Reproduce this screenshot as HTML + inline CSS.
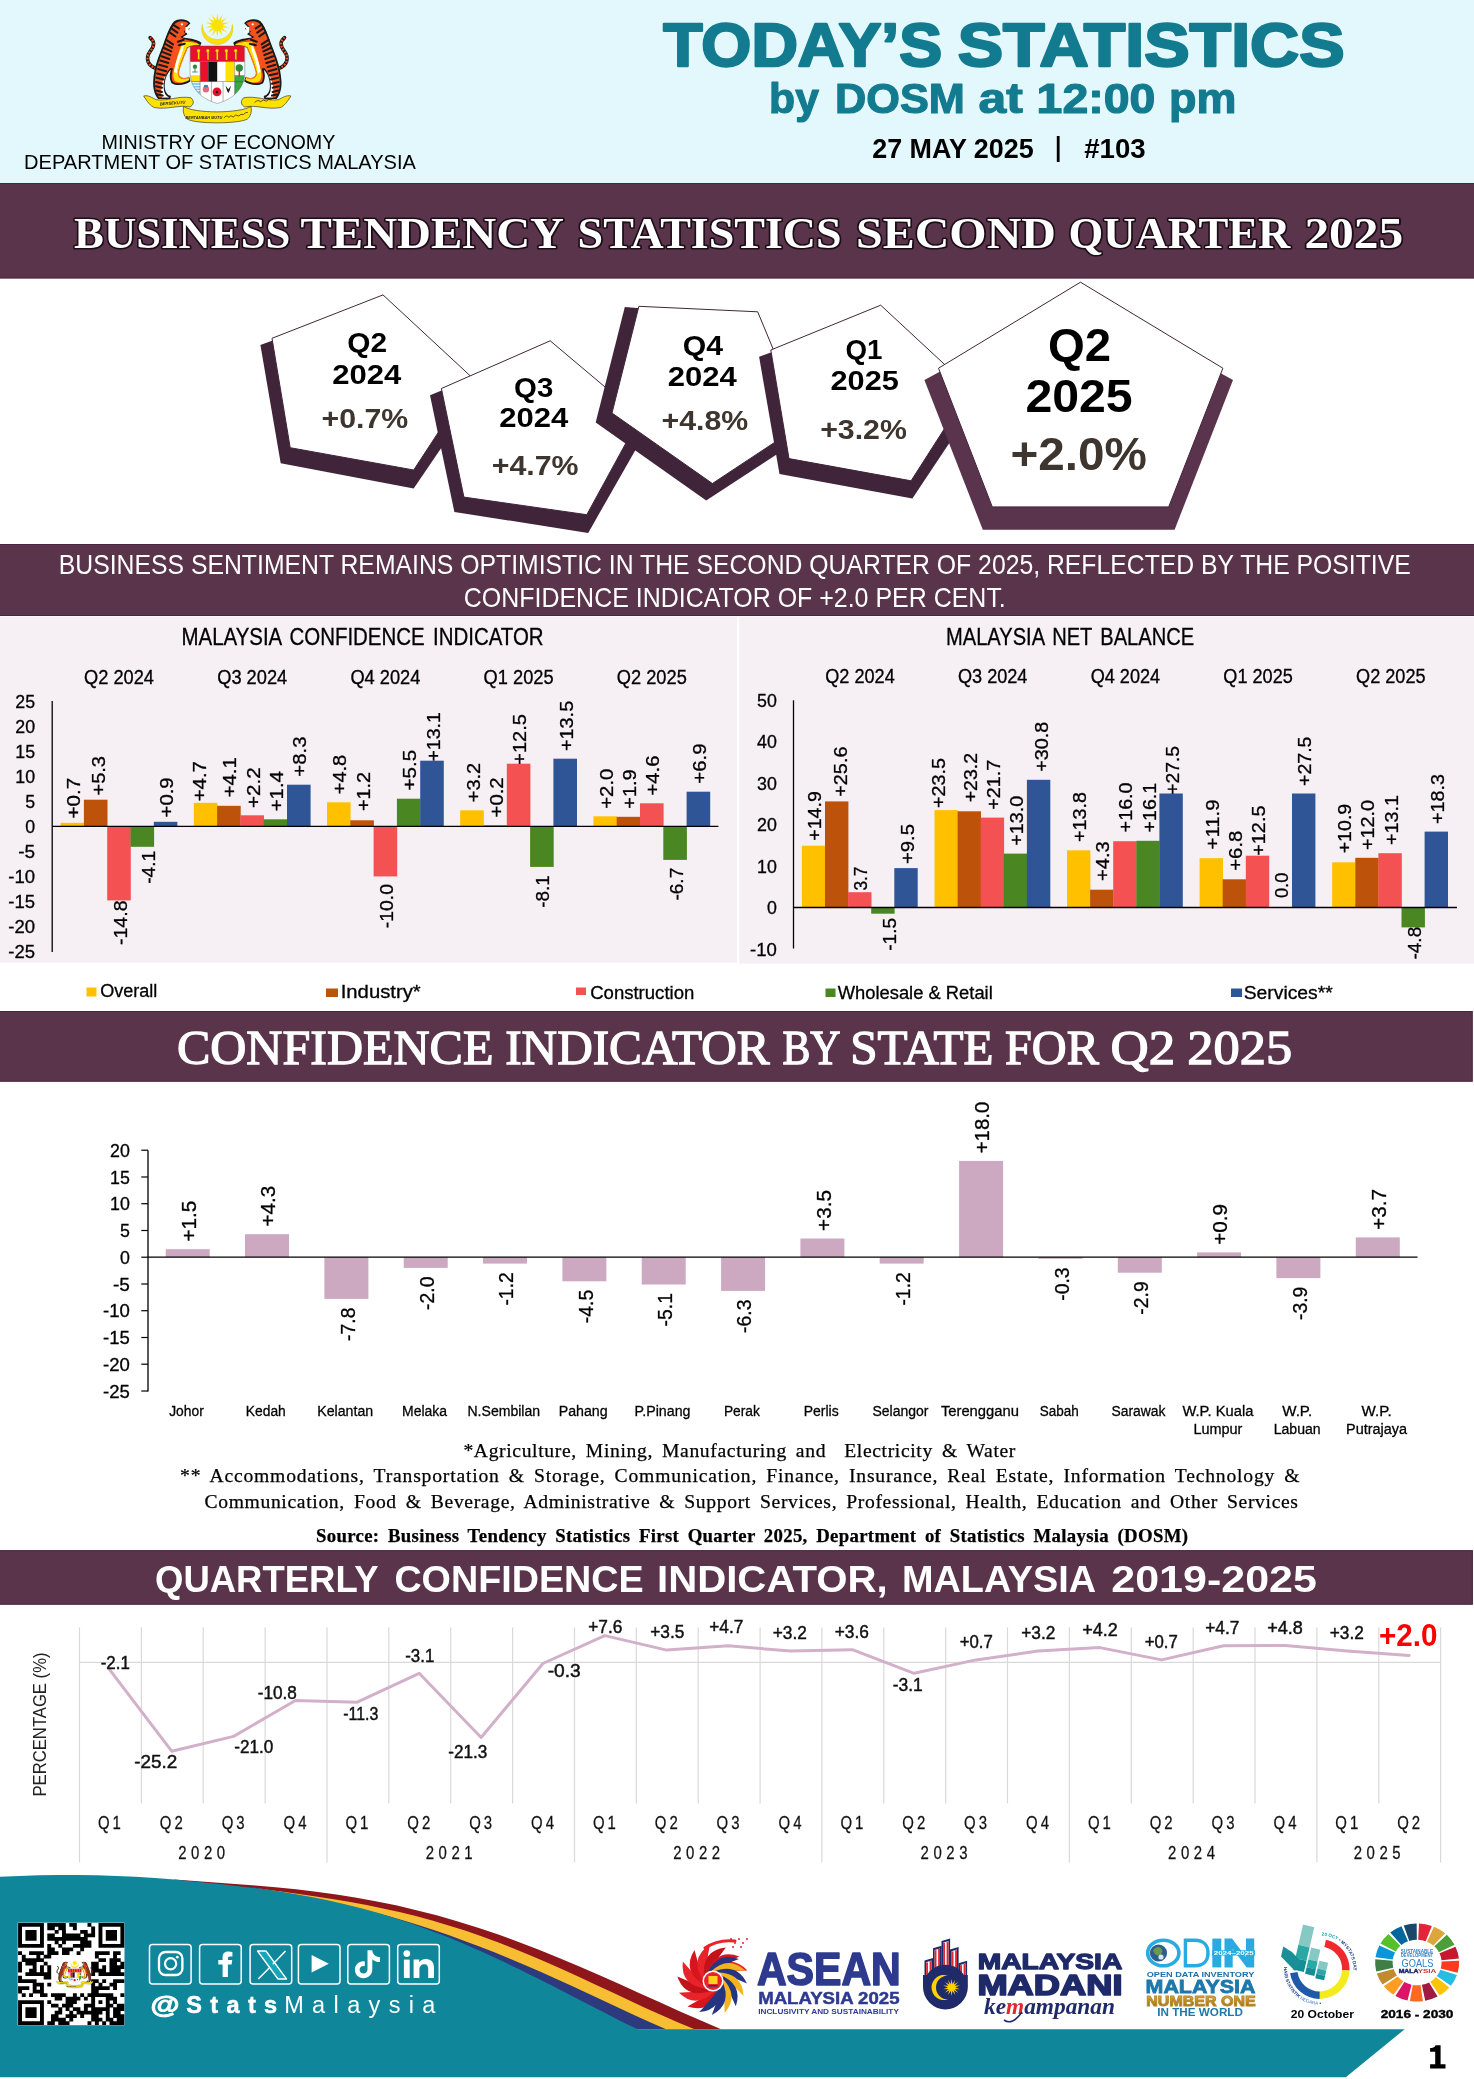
<!DOCTYPE html>
<html><head><meta charset="utf-8"><title>Today's Statistics by DOSM</title>
<style>
html,body{margin:0;padding:0;background:#fff;}
body{width:1474px;height:2079px;overflow:hidden;font-family:"Liberation Sans",sans-serif;}
svg{display:block;font-family:"Liberation Sans",sans-serif;will-change:transform;}
.tt text:not([fill="#fff"]):not([font-family]){stroke:#000;stroke-width:.3px}
</style></head><body>
<svg width="1474" height="2079" viewBox="0 0 1474 2079">
<rect x="0.0" y="0.0" width="1474.0" height="183.0" fill="#e3f8fc"/>
<g id="crestg" transform="translate(130,5) scale(0.12212)">
<path d="M592,160 A128,128 0 1 0 838,160 A118,118 0 1 1 592,160Z" fill="#ffe100" stroke="#c9b000" stroke-width="3"/>
<polygon points="715.0,65.0 724.3,124.1 758.4,74.9 741.2,132.2 793.2,102.7 752.8,146.8 812.5,142.7 757.0,165.0 812.5,187.3 752.8,183.2 793.2,227.3 741.2,197.8 758.4,255.1 724.3,205.9 715.0,265.0 705.7,205.9 671.6,255.1 688.8,197.8 636.8,227.3 677.2,183.2 617.5,187.3 673.0,165.0 617.5,142.7 677.2,146.8 636.8,102.7 688.8,132.2 671.6,74.9 705.7,124.1" fill="#ffe100"/>
<g><path d="M215,520 C150,500 120,440 165,380 C200,335 205,300 165,268" fill="none" stroke="#1a1a1a" stroke-width="30" stroke-linecap="round"/>
<path d="M215,520 C150,500 120,440 165,380 C200,335 205,300 165,268" fill="none" stroke="#f4511e" stroke-width="18" stroke-dasharray="14 13"/>
<path d="M360,135 C400,105 470,115 495,150 L470,175 L490,195 L455,215 L470,240 L430,265 C470,275 540,275 585,310 L575,335 C540,330 500,335 470,350 L450,400 C420,470 400,520 395,560 C400,600 440,615 485,590 L495,625 C450,660 380,665 340,640 C320,600 325,560 335,530 C300,560 280,620 285,680 C290,720 310,740 335,745 L330,770 L230,770 C205,740 185,690 190,620 C195,520 230,430 270,330 C295,260 320,180 360,135Z" fill="#1a1a1a"/>
<path d="M372,150 C405,125 455,130 478,152 L452,176 L470,196 L440,214 L452,238 L412,262 C455,290 520,290 565,315 C530,318 490,325 458,338 L438,392 C408,462 386,520 382,565 C386,610 430,632 478,608 C450,640 390,650 352,630 C335,600 340,560 352,520 L330,515 C290,560 268,620 272,682 C276,725 296,750 320,757 L240,757 C218,730 200,688 204,622 C210,522 244,436 282,338 C306,268 334,192 372,150Z" fill="#f4511e"/>
<path d="M430,300 C480,300 540,305 575,325 C540,325 500,332 468,346 L445,400 C418,465 398,520 393,562 C396,598 430,615 478,596 L486,615 C445,640 395,640 365,620 C350,590 352,560 362,525 C378,450 400,380 430,300Z" fill="#ffe100"/>
<path d="M440,340 L425,400 C400,460 385,520 383,560 L360,545 C372,470 398,400 425,335Z" fill="#fff"/>
<path d="M300,560 C275,610 270,670 282,715 C290,740 305,752 322,757 L262,757 C250,700 255,620 300,560Z" fill="#fff"/>
<path d="M296,285 L352,322" stroke="#1a1a1a" stroke-width="17" stroke-linecap="round"/>
<path d="M288,318 L345,350" stroke="#1a1a1a" stroke-width="17" stroke-linecap="round"/>
<path d="M278,352 L338,380" stroke="#1a1a1a" stroke-width="17" stroke-linecap="round"/>
<path d="M268,386 L330,410" stroke="#1a1a1a" stroke-width="17" stroke-linecap="round"/>
<path d="M258,420 L322,442" stroke="#1a1a1a" stroke-width="17" stroke-linecap="round"/>
<path d="M248,455 L314,474" stroke="#1a1a1a" stroke-width="17" stroke-linecap="round"/>
<path d="M238,490 L304,508" stroke="#1a1a1a" stroke-width="17" stroke-linecap="round"/>
<path d="M230,525 L296,542" stroke="#1a1a1a" stroke-width="17" stroke-linecap="round"/>
<path d="M222,560 L286,576" stroke="#1a1a1a" stroke-width="17" stroke-linecap="round"/>
<path d="M216,595 L276,610" stroke="#1a1a1a" stroke-width="17" stroke-linecap="round"/>
<path d="M212,630 L268,644" stroke="#1a1a1a" stroke-width="17" stroke-linecap="round"/>
<path d="M212,665 L262,678" stroke="#1a1a1a" stroke-width="17" stroke-linecap="round"/>
<path d="M216,700 L262,712" stroke="#1a1a1a" stroke-width="17" stroke-linecap="round"/>
<path d="M226,732 L268,742" stroke="#1a1a1a" stroke-width="17" stroke-linecap="round"/>
<path d="M322,222 L372,258" stroke="#1a1a1a" stroke-width="17" stroke-linecap="round"/>
<path d="M336,190 L388,226" stroke="#1a1a1a" stroke-width="17" stroke-linecap="round"/>
<path d="M352,160 L400,192" stroke="#1a1a1a" stroke-width="17" stroke-linecap="round"/>
<path d="M392,300 L440,285" stroke="#1a1a1a" stroke-width="17" stroke-linecap="round"/>
<path d="M400,330 L448,318" stroke="#1a1a1a" stroke-width="17" stroke-linecap="round"/>
<path d="M470,350 C440,420 405,500 395,560 C400,600 440,615 485,590" fill="none" stroke="#ff7a1a" stroke-width="10"/>
<path d="M455,180 L492,172 L476,205 L495,225 L452,228Z" fill="#fff"/>
<circle cx="425" cy="158" r="9" fill="#fff"/></g>
<g transform="translate(1430,0) scale(-1,1)"><path d="M215,520 C150,500 120,440 165,380 C200,335 205,300 165,268" fill="none" stroke="#1a1a1a" stroke-width="30" stroke-linecap="round"/>
<path d="M215,520 C150,500 120,440 165,380 C200,335 205,300 165,268" fill="none" stroke="#f4511e" stroke-width="18" stroke-dasharray="14 13"/>
<path d="M360,135 C400,105 470,115 495,150 L470,175 L490,195 L455,215 L470,240 L430,265 C470,275 540,275 585,310 L575,335 C540,330 500,335 470,350 L450,400 C420,470 400,520 395,560 C400,600 440,615 485,590 L495,625 C450,660 380,665 340,640 C320,600 325,560 335,530 C300,560 280,620 285,680 C290,720 310,740 335,745 L330,770 L230,770 C205,740 185,690 190,620 C195,520 230,430 270,330 C295,260 320,180 360,135Z" fill="#1a1a1a"/>
<path d="M372,150 C405,125 455,130 478,152 L452,176 L470,196 L440,214 L452,238 L412,262 C455,290 520,290 565,315 C530,318 490,325 458,338 L438,392 C408,462 386,520 382,565 C386,610 430,632 478,608 C450,640 390,650 352,630 C335,600 340,560 352,520 L330,515 C290,560 268,620 272,682 C276,725 296,750 320,757 L240,757 C218,730 200,688 204,622 C210,522 244,436 282,338 C306,268 334,192 372,150Z" fill="#f4511e"/>
<path d="M430,300 C480,300 540,305 575,325 C540,325 500,332 468,346 L445,400 C418,465 398,520 393,562 C396,598 430,615 478,596 L486,615 C445,640 395,640 365,620 C350,590 352,560 362,525 C378,450 400,380 430,300Z" fill="#ffe100"/>
<path d="M440,340 L425,400 C400,460 385,520 383,560 L360,545 C372,470 398,400 425,335Z" fill="#fff"/>
<path d="M300,560 C275,610 270,670 282,715 C290,740 305,752 322,757 L262,757 C250,700 255,620 300,560Z" fill="#fff"/>
<path d="M296,285 L352,322" stroke="#1a1a1a" stroke-width="17" stroke-linecap="round"/>
<path d="M288,318 L345,350" stroke="#1a1a1a" stroke-width="17" stroke-linecap="round"/>
<path d="M278,352 L338,380" stroke="#1a1a1a" stroke-width="17" stroke-linecap="round"/>
<path d="M268,386 L330,410" stroke="#1a1a1a" stroke-width="17" stroke-linecap="round"/>
<path d="M258,420 L322,442" stroke="#1a1a1a" stroke-width="17" stroke-linecap="round"/>
<path d="M248,455 L314,474" stroke="#1a1a1a" stroke-width="17" stroke-linecap="round"/>
<path d="M238,490 L304,508" stroke="#1a1a1a" stroke-width="17" stroke-linecap="round"/>
<path d="M230,525 L296,542" stroke="#1a1a1a" stroke-width="17" stroke-linecap="round"/>
<path d="M222,560 L286,576" stroke="#1a1a1a" stroke-width="17" stroke-linecap="round"/>
<path d="M216,595 L276,610" stroke="#1a1a1a" stroke-width="17" stroke-linecap="round"/>
<path d="M212,630 L268,644" stroke="#1a1a1a" stroke-width="17" stroke-linecap="round"/>
<path d="M212,665 L262,678" stroke="#1a1a1a" stroke-width="17" stroke-linecap="round"/>
<path d="M216,700 L262,712" stroke="#1a1a1a" stroke-width="17" stroke-linecap="round"/>
<path d="M226,732 L268,742" stroke="#1a1a1a" stroke-width="17" stroke-linecap="round"/>
<path d="M322,222 L372,258" stroke="#1a1a1a" stroke-width="17" stroke-linecap="round"/>
<path d="M336,190 L388,226" stroke="#1a1a1a" stroke-width="17" stroke-linecap="round"/>
<path d="M352,160 L400,192" stroke="#1a1a1a" stroke-width="17" stroke-linecap="round"/>
<path d="M392,300 L440,285" stroke="#1a1a1a" stroke-width="17" stroke-linecap="round"/>
<path d="M400,330 L448,318" stroke="#1a1a1a" stroke-width="17" stroke-linecap="round"/>
<path d="M470,350 C440,420 405,500 395,560 C400,600 440,615 485,590" fill="none" stroke="#ff7a1a" stroke-width="10"/>
<path d="M455,180 L492,172 L476,205 L495,225 L452,228Z" fill="#fff"/>
<circle cx="425" cy="158" r="9" fill="#fff"/></g>
<clipPath id="shc"><path d="M492,335 H940 V560 C935,680 850,770 716,806 C580,770 497,680 492,560Z"/></clipPath>
<g clip-path="url(#shc)">
<rect x="492" y="335" width="448" height="475" fill="#fff"/>
<rect x="492" y="335" width="448" height="128" fill="#e8112d"/>
<rect x="556" y="375" width="13" height="75" fill="#ffe100" stroke="#8a7a00" stroke-width="2"/>
<path d="M548,372 q14,-22 26,0 l-4,14 h-18z" fill="#ffe100" stroke="#8a7a00" stroke-width="2"/>
<rect x="632" y="375" width="13" height="75" fill="#ffe100" stroke="#8a7a00" stroke-width="2"/>
<path d="M624,372 q14,-22 26,0 l-4,14 h-18z" fill="#ffe100" stroke="#8a7a00" stroke-width="2"/>
<rect x="708" y="375" width="13" height="75" fill="#ffe100" stroke="#8a7a00" stroke-width="2"/>
<path d="M700,372 q14,-22 26,0 l-4,14 h-18z" fill="#ffe100" stroke="#8a7a00" stroke-width="2"/>
<rect x="784" y="375" width="13" height="75" fill="#ffe100" stroke="#8a7a00" stroke-width="2"/>
<path d="M776,372 q14,-22 26,0 l-4,14 h-18z" fill="#ffe100" stroke="#8a7a00" stroke-width="2"/>
<rect x="860" y="375" width="13" height="75" fill="#ffe100" stroke="#8a7a00" stroke-width="2"/>
<path d="M852,372 q14,-22 26,0 l-4,14 h-18z" fill="#ffe100" stroke="#8a7a00" stroke-width="2"/>
<rect x="575" y="465" width="66" height="162" fill="#e8112d"/>
<rect x="641" y="465" width="75" height="162" fill="#111"/>
<rect x="716" y="465" width="66" height="162" fill="#fff"/>
<rect x="782" y="465" width="73" height="162" fill="#ffe100"/>
<rect x="492" y="575" width="82" height="50" fill="#ffe100"/>
<rect x="492" y="625" width="82" height="120" fill="#7fc4e8"/>
<rect x="492" y="632" width="82" height="8" fill="#fff"/>
<rect x="492" y="654" width="82" height="8" fill="#fff"/>
<rect x="492" y="676" width="82" height="8" fill="#fff"/>
<rect x="492" y="698" width="82" height="8" fill="#fff"/>
<rect x="492" y="720" width="82" height="8" fill="#fff"/>
<circle cx="532" cy="505" r="18" fill="#2e8b3c"/><rect x="528" y="515" width="8" height="35" fill="#2e8b3c"/><rect x="508" y="545" width="48" height="7" fill="#3a7fc2"/>
<path d="M857,575 L940,575 L940,640 L857,740Z" fill="#3aa644"/>
<circle cx="895" cy="515" r="30" fill="#2e8b3c"/><rect x="889" y="530" width="12" height="55" fill="#c0392b"/>
<circle cx="622" cy="690" r="26" fill="#e86a7a"/><rect x="606" y="655" width="32" height="20" fill="#3a7fc2"/>
<circle cx="712" cy="712" r="36" fill="#e8112d"/><circle cx="712" cy="712" r="10" fill="#111"/>
<path d="M782,660 L805,690 L828,660 L815,705 L805,720 L795,705Z" fill="#222"/>
<path d="M492,463 H940" stroke="#333" stroke-width="3" fill="none"/>
<path d="M492,627 H940" stroke="#333" stroke-width="3" fill="none"/>
<path d="M574,463 V760" stroke="#333" stroke-width="3" fill="none"/>
<path d="M857,463 V740" stroke="#333" stroke-width="3" fill="none"/>
<path d="M667,627 V800" stroke="#333" stroke-width="3" fill="none"/>
<path d="M762,627 V790" stroke="#333" stroke-width="3" fill="none"/>
</g>
<path d="M492,335 H940 V560 C935,680 850,770 716,806 C580,770 497,680 492,560Z" fill="none" stroke="#444" stroke-width="3"/>
<path d="M112,745 C150,735 180,760 215,775 C300,790 400,740 500,760 C530,790 520,820 490,835 C400,815 300,860 200,840 C170,830 140,790 112,745Z" fill="#ffe100" stroke="#222" stroke-width="5" stroke-linejoin="round"/>
<path d="M1318,745 C1280,735 1250,760 1215,775 C1130,790 1030,740 930,760 C900,790 910,820 940,835 C1030,815 1130,860 1230,840 C1260,830 1290,790 1318,745Z" fill="#ffe100" stroke="#222" stroke-width="5" stroke-linejoin="round"/>
<path d="M440,830 C520,890 900,890 990,830 C1000,870 990,910 960,935 C880,975 540,975 470,935 C440,910 430,870 440,830Z" fill="#ffe100" stroke="#222" stroke-width="5" stroke-linejoin="round"/>
<text x="245" y="822" transform="rotate(-4 245 822)" textLength="210" lengthAdjust="spacingAndGlyphs" font-size="34" font-weight="bold" fill="#222" font-style="italic">BERSEKUTU</text>
<text x="455" y="935" textLength="300" lengthAdjust="spacingAndGlyphs" font-size="34" font-weight="bold" fill="#222" font-style="italic">BERTAMBAH MUTU</text>
<path d="M770,925 q20,-30 40,-5 q15,-25 35,-3 q20,-28 45,-8 q18,-22 40,-12 q15,-20 35,-18" fill="none" stroke="#222" stroke-width="6"/>
<path d="M1020,800 q25,-30 50,-8 q20,-25 45,-5 q20,-20 45,-12" fill="none" stroke="#222" stroke-width="6"/>
</g>
<text x="101.6" y="148.5" font-size="20" textLength="233.8" lengthAdjust="spacingAndGlyphs" fill="#000">MINISTRY OF ECONOMY</text>
<text x="24.1" y="169.0" font-size="20" textLength="391.8" lengthAdjust="spacingAndGlyphs" fill="#000">DEPARTMENT OF STATISTICS MALAYSIA</text>
<text x="663.2" y="66.0" font-size="61.5" font-weight="bold" textLength="279.0" lengthAdjust="spacingAndGlyphs" fill="#137b8f" stroke="#137b8f" stroke-width="2.4" stroke-linejoin="round">TODAY’S</text>
<text x="957.7" y="66.0" font-size="61.5" font-weight="bold" textLength="387.0" lengthAdjust="spacingAndGlyphs" fill="#137b8f" stroke="#137b8f" stroke-width="2.4" stroke-linejoin="round">STATISTICS</text>
<text x="769.1" y="112.5" font-size="42" font-weight="bold" textLength="49.8" lengthAdjust="spacingAndGlyphs" fill="#137b8f" stroke="#137b8f" stroke-width="1.2" stroke-linejoin="round">by</text>
<text x="835.1" y="112.5" font-size="42" font-weight="bold" textLength="129.8" lengthAdjust="spacingAndGlyphs" fill="#137b8f" stroke="#137b8f" stroke-width="1.2" stroke-linejoin="round">DOSM</text>
<text x="978.6" y="112.5" font-size="42" font-weight="bold" textLength="44.3" lengthAdjust="spacingAndGlyphs" fill="#137b8f" stroke="#137b8f" stroke-width="1.2" stroke-linejoin="round">at</text>
<text x="1036.6" y="112.5" font-size="42" font-weight="bold" textLength="118.8" lengthAdjust="spacingAndGlyphs" fill="#137b8f" stroke="#137b8f" stroke-width="1.2" stroke-linejoin="round">12:00</text>
<text x="1169.1" y="112.5" font-size="42" font-weight="bold" textLength="67.3" lengthAdjust="spacingAndGlyphs" fill="#137b8f" stroke="#137b8f" stroke-width="1.2" stroke-linejoin="round">pm</text>
<text x="872.2" y="157.5" font-size="28" font-weight="bold" textLength="161.5" lengthAdjust="spacingAndGlyphs" fill="#000">27 MAY 2025</text>
<rect x="1056.8" y="136.0" width="2.8" height="26.0" fill="#000"/>
<text x="1084.2" y="157.5" font-size="28" font-weight="bold" textLength="61.5" lengthAdjust="spacingAndGlyphs" fill="#000">#103</text>
<rect x="-1.0" y="183.5" width="1476.0" height="94.6" fill="#59344b" stroke="#4a2440" stroke-width="1"/>
<text x="75.6" y="249.0" font-size="44" font-weight="bold" font-family="Liberation Serif" textLength="216.3" lengthAdjust="spacingAndGlyphs" fill="#1c0e17">BUSINESS</text>
<text x="302.0" y="249.0" font-size="44" font-weight="bold" font-family="Liberation Serif" textLength="263.5" lengthAdjust="spacingAndGlyphs" fill="#1c0e17">TENDENCY</text>
<text x="579.1" y="249.0" font-size="44" font-weight="bold" font-family="Liberation Serif" textLength="264.0" lengthAdjust="spacingAndGlyphs" fill="#1c0e17">STATISTICS</text>
<text x="857.6" y="249.0" font-size="44" font-weight="bold" font-family="Liberation Serif" textLength="199.8" lengthAdjust="spacingAndGlyphs" fill="#1c0e17">SECOND</text>
<text x="1070.0" y="249.0" font-size="44" font-weight="bold" font-family="Liberation Serif" textLength="221.9" lengthAdjust="spacingAndGlyphs" fill="#1c0e17">QUARTER</text>
<text x="1305.9" y="249.0" font-size="44" font-weight="bold" font-family="Liberation Serif" textLength="98.9" lengthAdjust="spacingAndGlyphs" fill="#1c0e17">2025</text>
<text x="74.1" y="247.5" font-size="44" font-weight="bold" font-family="Liberation Serif" textLength="216.3" lengthAdjust="spacingAndGlyphs" fill="#fff" stroke="#1c0e17" stroke-width="3.2" stroke-linejoin="round" paint-order="stroke">BUSINESS</text>
<text x="300.5" y="247.5" font-size="44" font-weight="bold" font-family="Liberation Serif" textLength="263.5" lengthAdjust="spacingAndGlyphs" fill="#fff" stroke="#1c0e17" stroke-width="3.2" stroke-linejoin="round" paint-order="stroke">TENDENCY</text>
<text x="577.6" y="247.5" font-size="44" font-weight="bold" font-family="Liberation Serif" textLength="264.0" lengthAdjust="spacingAndGlyphs" fill="#fff" stroke="#1c0e17" stroke-width="3.2" stroke-linejoin="round" paint-order="stroke">STATISTICS</text>
<text x="856.1" y="247.5" font-size="44" font-weight="bold" font-family="Liberation Serif" textLength="199.8" lengthAdjust="spacingAndGlyphs" fill="#fff" stroke="#1c0e17" stroke-width="3.2" stroke-linejoin="round" paint-order="stroke">SECOND</text>
<text x="1068.5" y="247.5" font-size="44" font-weight="bold" font-family="Liberation Serif" textLength="221.9" lengthAdjust="spacingAndGlyphs" fill="#fff" stroke="#1c0e17" stroke-width="3.2" stroke-linejoin="round" paint-order="stroke">QUARTER</text>
<text x="1304.4" y="247.5" font-size="44" font-weight="bold" font-family="Liberation Serif" textLength="98.9" lengthAdjust="spacingAndGlyphs" fill="#fff" stroke="#1c0e17" stroke-width="3.2" stroke-linejoin="round" paint-order="stroke">2025</text>
<polygon points="260.4,345.1 280.7,463.2 413.7,488.4 482.0,388.0 383.0,300.0" fill="#40253a"/>
<polygon points="383.0,294.9 272.0,338.3 290.2,447.7 413.7,470.0 473.4,378.8" fill="#fff" stroke="#40253a" stroke-width="1" stroke-linejoin="miter"/>
<polygon points="430.0,395.3 454.4,512.0 588.2,532.9 648.0,428.0 550.0,346.0" fill="#40253a"/>
<polygon points="550.2,340.8 441.4,388.5 463.9,497.1 586.8,514.7 640.3,416.7" fill="#fff" stroke="#40253a" stroke-width="1" stroke-linejoin="miter"/>
<polygon points="624.8,307.1 595.7,422.5 706.2,500.4 808.0,434.0 757.7,318.0" fill="#40253a"/>
<polygon points="638.9,306.3 757.7,311.8 803.8,423.1 712.4,483.5 612.0,413.0" fill="#fff" stroke="#40253a" stroke-width="1" stroke-linejoin="miter"/>
<polygon points="759.1,356.8 779.5,474.0 912.4,498.5 978.0,400.0 880.7,312.0" fill="#40253a"/>
<polygon points="880.7,305.2 770.8,350.0 789.0,458.6 911.1,480.8 970.3,388.3" fill="#fff" stroke="#40253a" stroke-width="1" stroke-linejoin="miter"/>
<polygon points="924.4,379.9 982.8,529.7 1174.6,529.7 1233.0,379.9 1080.5,296.0" fill="#5a344c"/>
<polygon points="1080.5,282.2 938.5,368.2 992.3,506.9 1168.7,506.9 1222.9,368.2" fill="#fff" stroke="#40253a" stroke-width="1" stroke-linejoin="miter"/>
<text x="347.2" y="351.9" font-size="28.5" font-weight="bold" textLength="39.8" lengthAdjust="spacingAndGlyphs" fill="#000">Q2</text>
<text x="332.3" y="383.9" font-size="28.5" font-weight="bold" textLength="69.1" lengthAdjust="spacingAndGlyphs" fill="#000">2024</text>
<text x="321.5" y="428.4" font-size="28.5" font-weight="bold" textLength="86.7" lengthAdjust="spacingAndGlyphs" fill="#3d352e">+0.7%</text>
<text x="514.1" y="397.2" font-size="28.5" font-weight="bold" textLength="39.2" lengthAdjust="spacingAndGlyphs" fill="#000">Q3</text>
<text x="499.2" y="426.5" font-size="28.5" font-weight="bold" textLength="69.1" lengthAdjust="spacingAndGlyphs" fill="#000">2024</text>
<text x="491.7" y="474.8" font-size="28.5" font-weight="bold" textLength="86.9" lengthAdjust="spacingAndGlyphs" fill="#3d352e">+4.7%</text>
<text x="682.7" y="354.6" font-size="28.5" font-weight="bold" textLength="40.3" lengthAdjust="spacingAndGlyphs" fill="#000">Q4</text>
<text x="667.7" y="386.4" font-size="28.5" font-weight="bold" textLength="69.1" lengthAdjust="spacingAndGlyphs" fill="#000">2024</text>
<text x="661.5" y="430.0" font-size="28.5" font-weight="bold" textLength="86.7" lengthAdjust="spacingAndGlyphs" fill="#3d352e">+4.8%</text>
<text x="845.5" y="358.7" font-size="28.5" font-weight="bold" textLength="37.0" lengthAdjust="spacingAndGlyphs" fill="#000">Q1</text>
<text x="830.5" y="390.4" font-size="28.5" font-weight="bold" textLength="68.3" lengthAdjust="spacingAndGlyphs" fill="#000">2025</text>
<text x="820.2" y="438.8" font-size="28.5" font-weight="bold" textLength="86.7" lengthAdjust="spacingAndGlyphs" fill="#3d352e">+3.2%</text>
<text x="1047.9" y="360.9" font-size="46" font-weight="bold" textLength="63.1" lengthAdjust="spacingAndGlyphs" fill="#000">Q2</text>
<text x="1025.4" y="411.7" font-size="46" font-weight="bold" textLength="107.3" lengthAdjust="spacingAndGlyphs" fill="#000">2025</text>
<text x="1010.5" y="470.3" font-size="46" font-weight="bold" textLength="136.5" lengthAdjust="spacingAndGlyphs" fill="#3d352e">+2.0%</text>
<g class="tt">
<rect x="-1.0" y="544.5" width="1476.0" height="71.0" fill="#59344b" stroke="#4a2440" stroke-width="1"/>
<text x="58.8" y="574.0" font-size="27.5" textLength="1352.0" lengthAdjust="spacingAndGlyphs" fill="#fff">BUSINESS SENTIMENT REMAINS OPTIMISTIC IN THE SECOND QUARTER OF 2025, REFLECTED BY THE POSITIVE</text>
<text x="463.8" y="606.5" font-size="27.5" textLength="542.0" lengthAdjust="spacingAndGlyphs" fill="#fff">CONFIDENCE INDICATOR OF +2.0 PER CENT.</text>
<rect x="0.0" y="616.8" width="737.1" height="345.9" fill="#f6f0f5"/>
<rect x="739.1" y="616.8" width="735.0" height="347.0" fill="#f6f0f5"/>
<text x="181.5" y="645.0" font-size="23" textLength="362.1" lengthAdjust="spacingAndGlyphs" fill="#000" word-spacing="3">MALAYSIA CONFIDENCE INDICATOR</text>
<text x="946.0" y="645.0" font-size="23" textLength="248.1" lengthAdjust="spacingAndGlyphs" fill="#000" word-spacing="3">MALAYSIA NET BALANCE</text>
<text x="119.0" y="684.0" font-size="19.3" textLength="70.0" lengthAdjust="spacingAndGlyphs" text-anchor="middle" fill="#000">Q2 2024</text>
<text x="860.0" y="682.5" font-size="19.3" textLength="69.5" lengthAdjust="spacingAndGlyphs" text-anchor="middle" fill="#000">Q2 2024</text>
<text x="252.2" y="684.0" font-size="19.3" textLength="70.0" lengthAdjust="spacingAndGlyphs" text-anchor="middle" fill="#000">Q3 2024</text>
<text x="992.7" y="682.5" font-size="19.3" textLength="69.5" lengthAdjust="spacingAndGlyphs" text-anchor="middle" fill="#000">Q3 2024</text>
<text x="385.4" y="684.0" font-size="19.3" textLength="70.0" lengthAdjust="spacingAndGlyphs" text-anchor="middle" fill="#000">Q4 2024</text>
<text x="1125.4" y="682.5" font-size="19.3" textLength="69.5" lengthAdjust="spacingAndGlyphs" text-anchor="middle" fill="#000">Q4 2024</text>
<text x="518.6" y="684.0" font-size="19.3" textLength="70.0" lengthAdjust="spacingAndGlyphs" text-anchor="middle" fill="#000">Q1 2025</text>
<text x="1258.1" y="682.5" font-size="19.3" textLength="69.5" lengthAdjust="spacingAndGlyphs" text-anchor="middle" fill="#000">Q1 2025</text>
<text x="651.8" y="684.0" font-size="19.3" textLength="70.0" lengthAdjust="spacingAndGlyphs" text-anchor="middle" fill="#000">Q2 2025</text>
<text x="1390.8" y="682.5" font-size="19.3" textLength="69.5" lengthAdjust="spacingAndGlyphs" text-anchor="middle" fill="#000">Q2 2025</text>
<rect x="60.6" y="822.8" width="23.6" height="3.5" fill="#ffc000"/>
<rect x="83.9" y="799.7" width="23.6" height="26.6" fill="#bd520a"/>
<rect x="107.2" y="826.3" width="23.6" height="74.1" fill="#f45252"/>
<rect x="130.5" y="826.3" width="23.6" height="20.5" fill="#4a8622"/>
<rect x="153.8" y="821.8" width="23.6" height="4.5" fill="#305597"/>
<rect x="193.8" y="802.8" width="23.6" height="23.5" fill="#ffc000"/>
<rect x="217.1" y="805.8" width="23.6" height="20.5" fill="#bd520a"/>
<rect x="240.4" y="815.3" width="23.6" height="11.0" fill="#f45252"/>
<rect x="263.7" y="819.3" width="23.6" height="7.0" fill="#4a8622"/>
<rect x="287.0" y="784.7" width="23.6" height="41.6" fill="#305597"/>
<rect x="327.0" y="802.3" width="23.6" height="24.0" fill="#ffc000"/>
<rect x="350.3" y="820.3" width="23.6" height="6.0" fill="#bd520a"/>
<rect x="373.6" y="826.3" width="23.6" height="50.1" fill="#f45252"/>
<rect x="396.9" y="798.7" width="23.6" height="27.6" fill="#4a8622"/>
<rect x="420.2" y="760.7" width="23.6" height="65.6" fill="#305597"/>
<rect x="460.2" y="810.3" width="23.6" height="16.0" fill="#ffc000"/>
<rect x="483.5" y="825.3" width="23.6" height="1.0" fill="#bd520a"/>
<rect x="506.8" y="763.7" width="23.6" height="62.6" fill="#f45252"/>
<rect x="530.1" y="826.3" width="23.6" height="40.6" fill="#4a8622"/>
<rect x="553.4" y="758.7" width="23.6" height="67.6" fill="#305597"/>
<rect x="593.4" y="816.3" width="23.6" height="10.0" fill="#ffc000"/>
<rect x="616.7" y="816.8" width="23.6" height="9.5" fill="#bd520a"/>
<rect x="640.0" y="803.3" width="23.6" height="23.0" fill="#f45252"/>
<rect x="663.3" y="826.3" width="23.6" height="33.6" fill="#4a8622"/>
<rect x="686.6" y="791.7" width="23.6" height="34.6" fill="#305597"/>
<line x1="52.2" y1="701.0" x2="52.2" y2="952.0" stroke="#000" stroke-width="1.3"/>
<line x1="52.2" y1="826.3" x2="718.4" y2="826.3" stroke="#000" stroke-width="1.3"/>
<text x="35.1" y="707.5" font-size="18.2" textLength="19.8" lengthAdjust="spacingAndGlyphs" text-anchor="end" fill="#000">25</text>
<text x="35.1" y="732.6" font-size="18.2" textLength="19.8" lengthAdjust="spacingAndGlyphs" text-anchor="end" fill="#000">20</text>
<text x="35.1" y="757.6" font-size="18.2" textLength="19.8" lengthAdjust="spacingAndGlyphs" text-anchor="end" fill="#000">15</text>
<text x="35.1" y="782.7" font-size="18.2" textLength="19.8" lengthAdjust="spacingAndGlyphs" text-anchor="end" fill="#000">10</text>
<text x="35.1" y="807.8" font-size="18.2" textLength="9.9" lengthAdjust="spacingAndGlyphs" text-anchor="end" fill="#000">5</text>
<text x="35.1" y="832.8" font-size="18.2" textLength="9.9" lengthAdjust="spacingAndGlyphs" text-anchor="end" fill="#000">0</text>
<text x="35.1" y="857.8" font-size="18.2" textLength="16.9" lengthAdjust="spacingAndGlyphs" text-anchor="end" fill="#000">-5</text>
<text x="35.1" y="882.9" font-size="18.2" textLength="26.8" lengthAdjust="spacingAndGlyphs" text-anchor="end" fill="#000">-10</text>
<text x="35.1" y="907.9" font-size="18.2" textLength="26.8" lengthAdjust="spacingAndGlyphs" text-anchor="end" fill="#000">-15</text>
<text x="35.1" y="933.0" font-size="18.2" textLength="26.8" lengthAdjust="spacingAndGlyphs" text-anchor="end" fill="#000">-20</text>
<text x="35.1" y="958.0" font-size="18.2" textLength="26.8" lengthAdjust="spacingAndGlyphs" text-anchor="end" fill="#000">-25</text>
<text transform="translate(79.9,818.6) rotate(-90)" font-size="19" textLength="40.7" lengthAdjust="spacingAndGlyphs" fill="#000">+0.7</text>
<text transform="translate(105.1,795.5) rotate(-90)" font-size="19" textLength="39.5" lengthAdjust="spacingAndGlyphs" fill="#000">+5.3</text>
<text transform="translate(126.5,945.1) rotate(-90)" font-size="19" textLength="44.7" lengthAdjust="spacingAndGlyphs" fill="#000">-14.8</text>
<text transform="translate(155.1,883.8) rotate(-90)" font-size="19" textLength="33.1" lengthAdjust="spacingAndGlyphs" fill="#000">-4.1</text>
<text transform="translate(173.1,817.4) rotate(-90)" font-size="19" textLength="40.0" lengthAdjust="spacingAndGlyphs" fill="#000">+0.9</text>
<text transform="translate(206.1,801.3) rotate(-90)" font-size="19" textLength="40.2" lengthAdjust="spacingAndGlyphs" fill="#000">+4.7</text>
<text transform="translate(236.4,797.3) rotate(-90)" font-size="19" textLength="40.0" lengthAdjust="spacingAndGlyphs" fill="#000">+4.1</text>
<text transform="translate(259.7,808.1) rotate(-90)" font-size="19" textLength="40.7" lengthAdjust="spacingAndGlyphs" fill="#000">+2.2</text>
<text transform="translate(283.0,811.3) rotate(-90)" font-size="19" textLength="40.2" lengthAdjust="spacingAndGlyphs" fill="#000">+1.4</text>
<text transform="translate(306.3,776.7) rotate(-90)" font-size="19" textLength="40.2" lengthAdjust="spacingAndGlyphs" fill="#000">+8.3</text>
<text transform="translate(346.3,794.3) rotate(-90)" font-size="19" textLength="39.5" lengthAdjust="spacingAndGlyphs" fill="#000">+4.8</text>
<text transform="translate(369.6,811.1) rotate(-90)" font-size="19" textLength="39.3" lengthAdjust="spacingAndGlyphs" fill="#000">+1.2</text>
<text transform="translate(392.9,928.2) rotate(-90)" font-size="19" textLength="44.2" lengthAdjust="spacingAndGlyphs" fill="#000">-10.0</text>
<text transform="translate(416.2,790.5) rotate(-90)" font-size="19" textLength="40.7" lengthAdjust="spacingAndGlyphs" fill="#000">+5.5</text>
<text transform="translate(439.5,761.6) rotate(-90)" font-size="19" textLength="49.5" lengthAdjust="spacingAndGlyphs" fill="#000">+13.1</text>
<text transform="translate(479.5,802.3) rotate(-90)" font-size="19" textLength="39.5" lengthAdjust="spacingAndGlyphs" fill="#000">+3.2</text>
<text transform="translate(502.8,817.4) rotate(-90)" font-size="19" textLength="40.0" lengthAdjust="spacingAndGlyphs" fill="#000">+0.2</text>
<text transform="translate(526.1,764.7) rotate(-90)" font-size="19" textLength="50.5" lengthAdjust="spacingAndGlyphs" fill="#000">+12.5</text>
<text transform="translate(549.4,907.7) rotate(-90)" font-size="19" textLength="32.4" lengthAdjust="spacingAndGlyphs" fill="#000">-8.1</text>
<text transform="translate(572.7,751.1) rotate(-90)" font-size="19" textLength="50.3" lengthAdjust="spacingAndGlyphs" fill="#000">+13.5</text>
<text transform="translate(612.7,808.8) rotate(-90)" font-size="19" textLength="40.2" lengthAdjust="spacingAndGlyphs" fill="#000">+2.0</text>
<text transform="translate(636.0,808.8) rotate(-90)" font-size="19" textLength="39.5" lengthAdjust="spacingAndGlyphs" fill="#000">+1.9</text>
<text transform="translate(659.3,795.5) rotate(-90)" font-size="19" textLength="40.0" lengthAdjust="spacingAndGlyphs" fill="#000">+4.6</text>
<text transform="translate(682.6,900.6) rotate(-90)" font-size="19" textLength="32.9" lengthAdjust="spacingAndGlyphs" fill="#000">-6.7</text>
<text transform="translate(705.9,783.7) rotate(-90)" font-size="19" textLength="40.2" lengthAdjust="spacingAndGlyphs" fill="#000">+6.9</text>
<rect x="801.9" y="845.7" width="23.4" height="61.8" fill="#ffc000"/>
<rect x="825.0" y="801.4" width="23.4" height="106.1" fill="#bd520a"/>
<rect x="848.1" y="892.2" width="23.4" height="15.3" fill="#f45252"/>
<rect x="871.2" y="907.5" width="23.4" height="6.2" fill="#4a8622"/>
<rect x="894.3" y="868.1" width="23.4" height="39.4" fill="#305597"/>
<rect x="934.5" y="810.1" width="23.4" height="97.4" fill="#ffc000"/>
<rect x="957.6" y="811.3" width="23.4" height="96.2" fill="#bd520a"/>
<rect x="980.7" y="817.6" width="23.4" height="89.9" fill="#f45252"/>
<rect x="1003.8" y="853.6" width="23.4" height="53.9" fill="#4a8622"/>
<rect x="1026.9" y="779.8" width="23.4" height="127.7" fill="#305597"/>
<rect x="1067.0" y="850.3" width="23.4" height="57.2" fill="#ffc000"/>
<rect x="1090.1" y="889.7" width="23.4" height="17.8" fill="#bd520a"/>
<rect x="1113.2" y="841.2" width="23.4" height="66.3" fill="#f45252"/>
<rect x="1136.3" y="840.8" width="23.4" height="66.7" fill="#4a8622"/>
<rect x="1159.4" y="793.5" width="23.4" height="114.0" fill="#305597"/>
<rect x="1199.6" y="858.2" width="23.4" height="49.3" fill="#ffc000"/>
<rect x="1222.7" y="879.3" width="23.4" height="28.2" fill="#bd520a"/>
<rect x="1245.8" y="855.7" width="23.4" height="51.8" fill="#f45252"/>
<rect x="1292.0" y="793.5" width="23.4" height="114.0" fill="#305597"/>
<rect x="1332.2" y="862.3" width="23.4" height="45.2" fill="#ffc000"/>
<rect x="1355.3" y="857.8" width="23.4" height="49.7" fill="#bd520a"/>
<rect x="1378.4" y="853.2" width="23.4" height="54.3" fill="#f45252"/>
<rect x="1401.5" y="907.5" width="23.4" height="19.9" fill="#4a8622"/>
<rect x="1424.6" y="831.6" width="23.4" height="75.9" fill="#305597"/>
<line x1="793.5" y1="700.3" x2="793.5" y2="948.5" stroke="#000" stroke-width="1.3"/>
<line x1="793.5" y1="907.5" x2="1457.0" y2="907.5" stroke="#000" stroke-width="1.3"/>
<text x="776.8" y="706.8" font-size="18.2" textLength="19.8" lengthAdjust="spacingAndGlyphs" text-anchor="end" fill="#000">50</text>
<text x="776.8" y="748.2" font-size="18.2" textLength="19.8" lengthAdjust="spacingAndGlyphs" text-anchor="end" fill="#000">40</text>
<text x="776.8" y="789.6" font-size="18.2" textLength="19.8" lengthAdjust="spacingAndGlyphs" text-anchor="end" fill="#000">30</text>
<text x="776.8" y="831.1" font-size="18.2" textLength="19.8" lengthAdjust="spacingAndGlyphs" text-anchor="end" fill="#000">20</text>
<text x="776.8" y="872.5" font-size="18.2" textLength="19.8" lengthAdjust="spacingAndGlyphs" text-anchor="end" fill="#000">10</text>
<text x="776.8" y="914.0" font-size="18.2" textLength="9.9" lengthAdjust="spacingAndGlyphs" text-anchor="end" fill="#000">0</text>
<text x="776.8" y="955.5" font-size="18.2" textLength="26.8" lengthAdjust="spacingAndGlyphs" text-anchor="end" fill="#000">-10</text>
<text transform="translate(821.1,840.7) rotate(-90)" font-size="19" textLength="49.5" lengthAdjust="spacingAndGlyphs" fill="#000">+14.9</text>
<text transform="translate(846.7,796.8) rotate(-90)" font-size="19" textLength="50.3" lengthAdjust="spacingAndGlyphs" fill="#000">+25.6</text>
<text transform="translate(867.3,890.6) rotate(-90)" font-size="19" textLength="24.1" lengthAdjust="spacingAndGlyphs" fill="#000">3.7</text>
<text transform="translate(895.6,950.8) rotate(-90)" font-size="19" textLength="32.9" lengthAdjust="spacingAndGlyphs" fill="#000">-1.5</text>
<text transform="translate(913.5,864.1) rotate(-90)" font-size="19" textLength="40.2" lengthAdjust="spacingAndGlyphs" fill="#000">+9.5</text>
<text transform="translate(945.1,808.1) rotate(-90)" font-size="19" textLength="50.0" lengthAdjust="spacingAndGlyphs" fill="#000">+23.5</text>
<text transform="translate(976.7,802.3) rotate(-90)" font-size="19" textLength="49.3" lengthAdjust="spacingAndGlyphs" fill="#000">+23.2</text>
<text transform="translate(999.8,809.8) rotate(-90)" font-size="19" textLength="50.0" lengthAdjust="spacingAndGlyphs" fill="#000">+21.7</text>
<text transform="translate(1022.9,845.7) rotate(-90)" font-size="19" textLength="50.0" lengthAdjust="spacingAndGlyphs" fill="#000">+13.0</text>
<text transform="translate(1048.0,771.7) rotate(-90)" font-size="19" textLength="50.0" lengthAdjust="spacingAndGlyphs" fill="#000">+30.8</text>
<text transform="translate(1086.2,842.0) rotate(-90)" font-size="19" textLength="50.0" lengthAdjust="spacingAndGlyphs" fill="#000">+13.8</text>
<text transform="translate(1109.3,881.1) rotate(-90)" font-size="19" textLength="39.8" lengthAdjust="spacingAndGlyphs" fill="#000">+4.3</text>
<text transform="translate(1132.4,832.4) rotate(-90)" font-size="19" textLength="50.0" lengthAdjust="spacingAndGlyphs" fill="#000">+16.0</text>
<text transform="translate(1155.5,832.4) rotate(-90)" font-size="19" textLength="49.5" lengthAdjust="spacingAndGlyphs" fill="#000">+16.1</text>
<text transform="translate(1178.6,794.8) rotate(-90)" font-size="19" textLength="48.8" lengthAdjust="spacingAndGlyphs" fill="#000">+27.5</text>
<text transform="translate(1218.8,849.5) rotate(-90)" font-size="19" textLength="50.0" lengthAdjust="spacingAndGlyphs" fill="#000">+11.9</text>
<text transform="translate(1241.9,870.8) rotate(-90)" font-size="19" textLength="40.2" lengthAdjust="spacingAndGlyphs" fill="#000">+6.8</text>
<text transform="translate(1265.0,855.8) rotate(-90)" font-size="19" textLength="50.3" lengthAdjust="spacingAndGlyphs" fill="#000">+12.5</text>
<text transform="translate(1288.1,898.1) rotate(-90)" font-size="19" textLength="25.4" lengthAdjust="spacingAndGlyphs" fill="#000">0.0</text>
<text transform="translate(1311.2,786.0) rotate(-90)" font-size="19" textLength="49.5" lengthAdjust="spacingAndGlyphs" fill="#000">+27.5</text>
<text transform="translate(1351.3,853.3) rotate(-90)" font-size="19" textLength="49.5" lengthAdjust="spacingAndGlyphs" fill="#000">+10.9</text>
<text transform="translate(1374.4,850.0) rotate(-90)" font-size="19" textLength="50.0" lengthAdjust="spacingAndGlyphs" fill="#000">+12.0</text>
<text transform="translate(1397.5,845.0) rotate(-90)" font-size="19" textLength="50.0" lengthAdjust="spacingAndGlyphs" fill="#000">+13.1</text>
<text transform="translate(1420.6,959.6) rotate(-90)" font-size="19" textLength="32.9" lengthAdjust="spacingAndGlyphs" fill="#000">-4.8</text>
<text transform="translate(1443.7,823.9) rotate(-90)" font-size="19" textLength="49.8" lengthAdjust="spacingAndGlyphs" fill="#000">+18.3</text>
<rect x="86.5" y="987.5" width="10.0" height="9.0" fill="#ffc000"/>
<text x="100.2" y="996.5" font-size="18" textLength="57.1" lengthAdjust="spacingAndGlyphs" fill="#000">Overall</text>
<rect x="326.0" y="988.5" width="12.0" height="8.5" fill="#bd520a"/>
<text x="340.7" y="997.5" font-size="18" textLength="80.1" lengthAdjust="spacingAndGlyphs" fill="#000">Industry*</text>
<rect x="576.0" y="987.5" width="10.0" height="7.5" fill="#f45252"/>
<text x="590.2" y="998.5" font-size="18" textLength="104.1" lengthAdjust="spacingAndGlyphs" fill="#000">Construction</text>
<rect x="825.5" y="988.5" width="10.0" height="8.5" fill="#4a8622"/>
<text x="837.7" y="998.5" font-size="18" textLength="155.1" lengthAdjust="spacingAndGlyphs" fill="#000">Wholesale &amp; Retail</text>
<rect x="1231.0" y="988.5" width="11.0" height="8.5" fill="#305597"/>
<text x="1243.7" y="998.5" font-size="18" textLength="89.1" lengthAdjust="spacingAndGlyphs" fill="#000">Services**</text>
<rect x="-1.0" y="1011.5" width="1473.3" height="69.8" fill="#59344b" stroke="#4a2440" stroke-width="1"/>
<text x="176.9" y="1063.5" font-size="49" font-family="Liberation Serif" textLength="316.6" lengthAdjust="spacingAndGlyphs" fill="#fff" stroke="#fff" stroke-width="1.3">CONFIDENCE</text>
<text x="505.2" y="1063.5" font-size="49" font-family="Liberation Serif" textLength="264.4" lengthAdjust="spacingAndGlyphs" fill="#fff" stroke="#fff" stroke-width="1.3">INDICATOR</text>
<text x="782.4" y="1063.5" font-size="49" font-family="Liberation Serif" textLength="58.2" lengthAdjust="spacingAndGlyphs" fill="#fff" stroke="#fff" stroke-width="1.3">BY</text>
<text x="850.2" y="1063.5" font-size="49" font-family="Liberation Serif" textLength="143.2" lengthAdjust="spacingAndGlyphs" fill="#fff" stroke="#fff" stroke-width="1.3">STATE</text>
<text x="1005.0" y="1063.5" font-size="49" font-family="Liberation Serif" textLength="93.8" lengthAdjust="spacingAndGlyphs" fill="#fff" stroke="#fff" stroke-width="1.3">FOR</text>
<text x="1110.5" y="1063.5" font-size="49" font-family="Liberation Serif" textLength="64.6" lengthAdjust="spacingAndGlyphs" fill="#fff" stroke="#fff" stroke-width="1.3">Q2</text>
<text x="1187.3" y="1063.5" font-size="49" font-family="Liberation Serif" textLength="104.8" lengthAdjust="spacingAndGlyphs" fill="#fff" stroke="#fff" stroke-width="1.3">2025</text>
<rect x="165.7" y="1249.2" width="44.0" height="8.0" fill="#cca9c1"/>
<rect x="245.0" y="1234.2" width="44.0" height="23.0" fill="#cca9c1"/>
<rect x="324.4" y="1257.2" width="44.0" height="41.7" fill="#cca9c1"/>
<rect x="403.7" y="1257.2" width="44.0" height="10.7" fill="#cca9c1"/>
<rect x="483.0" y="1257.2" width="44.0" height="6.4" fill="#cca9c1"/>
<rect x="562.4" y="1257.2" width="44.0" height="24.1" fill="#cca9c1"/>
<rect x="641.7" y="1257.2" width="44.0" height="27.3" fill="#cca9c1"/>
<rect x="721.1" y="1257.2" width="44.0" height="33.7" fill="#cca9c1"/>
<rect x="800.4" y="1238.5" width="44.0" height="18.7" fill="#cca9c1"/>
<rect x="879.7" y="1257.2" width="44.0" height="6.4" fill="#cca9c1"/>
<rect x="959.1" y="1160.9" width="44.0" height="96.3" fill="#cca9c1"/>
<rect x="1038.4" y="1257.2" width="44.0" height="1.6" fill="#cca9c1"/>
<rect x="1117.8" y="1257.2" width="44.0" height="15.5" fill="#cca9c1"/>
<rect x="1197.1" y="1252.4" width="44.0" height="4.8" fill="#cca9c1"/>
<rect x="1276.4" y="1257.2" width="44.0" height="20.9" fill="#cca9c1"/>
<rect x="1355.8" y="1237.4" width="44.0" height="19.8" fill="#cca9c1"/>
<line x1="148.0" y1="1150.3" x2="148.0" y2="1391.5" stroke="#000" stroke-width="1.3"/>
<line x1="148.0" y1="1257.2" x2="1417.5" y2="1257.2" stroke="#000" stroke-width="1.3"/>
<line x1="141.3" y1="1150.2" x2="148.0" y2="1150.2" stroke="#000" stroke-width="1.2"/>
<text x="129.9" y="1156.7" font-size="18.2" textLength="19.8" lengthAdjust="spacingAndGlyphs" text-anchor="end" fill="#000">20</text>
<line x1="141.3" y1="1177.0" x2="148.0" y2="1177.0" stroke="#000" stroke-width="1.2"/>
<text x="129.9" y="1183.5" font-size="18.2" textLength="19.8" lengthAdjust="spacingAndGlyphs" text-anchor="end" fill="#000">15</text>
<line x1="141.3" y1="1203.7" x2="148.0" y2="1203.7" stroke="#000" stroke-width="1.2"/>
<text x="129.9" y="1210.2" font-size="18.2" textLength="19.8" lengthAdjust="spacingAndGlyphs" text-anchor="end" fill="#000">10</text>
<line x1="141.3" y1="1230.5" x2="148.0" y2="1230.5" stroke="#000" stroke-width="1.2"/>
<text x="129.9" y="1237.0" font-size="18.2" textLength="9.9" lengthAdjust="spacingAndGlyphs" text-anchor="end" fill="#000">5</text>
<line x1="141.3" y1="1257.2" x2="148.0" y2="1257.2" stroke="#000" stroke-width="1.2"/>
<text x="129.9" y="1263.7" font-size="18.2" textLength="9.9" lengthAdjust="spacingAndGlyphs" text-anchor="end" fill="#000">0</text>
<line x1="141.3" y1="1284.0" x2="148.0" y2="1284.0" stroke="#000" stroke-width="1.2"/>
<text x="129.9" y="1290.5" font-size="18.2" textLength="16.9" lengthAdjust="spacingAndGlyphs" text-anchor="end" fill="#000">-5</text>
<line x1="141.3" y1="1310.7" x2="148.0" y2="1310.7" stroke="#000" stroke-width="1.2"/>
<text x="129.9" y="1317.2" font-size="18.2" textLength="26.8" lengthAdjust="spacingAndGlyphs" text-anchor="end" fill="#000">-10</text>
<line x1="141.3" y1="1337.5" x2="148.0" y2="1337.5" stroke="#000" stroke-width="1.2"/>
<text x="129.9" y="1344.0" font-size="18.2" textLength="26.8" lengthAdjust="spacingAndGlyphs" text-anchor="end" fill="#000">-15</text>
<line x1="141.3" y1="1364.2" x2="148.0" y2="1364.2" stroke="#000" stroke-width="1.2"/>
<text x="129.9" y="1370.7" font-size="18.2" textLength="26.8" lengthAdjust="spacingAndGlyphs" text-anchor="end" fill="#000">-20</text>
<line x1="141.3" y1="1391.0" x2="148.0" y2="1391.0" stroke="#000" stroke-width="1.2"/>
<text x="129.9" y="1397.5" font-size="18.2" textLength="26.8" lengthAdjust="spacingAndGlyphs" text-anchor="end" fill="#000">-25</text>
<text transform="translate(195.9,1241.6) rotate(-90)" font-size="19.5" textLength="40.9" lengthAdjust="spacingAndGlyphs" fill="#000">+1.5</text>
<text transform="translate(275.2,1226.6) rotate(-90)" font-size="19.5" textLength="40.9" lengthAdjust="spacingAndGlyphs" fill="#000">+4.3</text>
<text transform="translate(354.5,1340.9) rotate(-90)" font-size="19.5" textLength="33.4" lengthAdjust="spacingAndGlyphs" fill="#000">-7.8</text>
<text transform="translate(433.9,1309.9) rotate(-90)" font-size="19.5" textLength="33.4" lengthAdjust="spacingAndGlyphs" fill="#000">-2.0</text>
<text transform="translate(513.2,1305.6) rotate(-90)" font-size="19.5" textLength="33.4" lengthAdjust="spacingAndGlyphs" fill="#000">-1.2</text>
<text transform="translate(592.6,1323.2) rotate(-90)" font-size="19.5" textLength="33.4" lengthAdjust="spacingAndGlyphs" fill="#000">-4.5</text>
<text transform="translate(671.9,1326.4) rotate(-90)" font-size="19.5" textLength="33.4" lengthAdjust="spacingAndGlyphs" fill="#000">-5.1</text>
<text transform="translate(751.2,1332.9) rotate(-90)" font-size="19.5" textLength="33.4" lengthAdjust="spacingAndGlyphs" fill="#000">-6.3</text>
<text transform="translate(830.6,1230.9) rotate(-90)" font-size="19.5" textLength="40.9" lengthAdjust="spacingAndGlyphs" fill="#000">+3.5</text>
<text transform="translate(909.9,1305.6) rotate(-90)" font-size="19.5" textLength="33.4" lengthAdjust="spacingAndGlyphs" fill="#000">-1.2</text>
<text transform="translate(989.3,1153.3) rotate(-90)" font-size="19.5" textLength="51.5" lengthAdjust="spacingAndGlyphs" fill="#000">+18.0</text>
<text transform="translate(1068.6,1300.8) rotate(-90)" font-size="19.5" textLength="33.4" lengthAdjust="spacingAndGlyphs" fill="#000">-0.3</text>
<text transform="translate(1147.9,1314.7) rotate(-90)" font-size="19.5" textLength="33.4" lengthAdjust="spacingAndGlyphs" fill="#000">-2.9</text>
<text transform="translate(1227.3,1244.8) rotate(-90)" font-size="19.5" textLength="40.9" lengthAdjust="spacingAndGlyphs" fill="#000">+0.9</text>
<text transform="translate(1306.6,1320.0) rotate(-90)" font-size="19.5" textLength="33.4" lengthAdjust="spacingAndGlyphs" fill="#000">-3.9</text>
<text transform="translate(1386.0,1229.8) rotate(-90)" font-size="19.5" textLength="40.9" lengthAdjust="spacingAndGlyphs" fill="#000">+3.7</text>
<text x="186.5" y="1416.3" font-size="15.5" textLength="34.6" lengthAdjust="spacingAndGlyphs" text-anchor="middle" fill="#000">Johor</text>
<text x="265.8" y="1416.3" font-size="15.5" textLength="40.0" lengthAdjust="spacingAndGlyphs" text-anchor="middle" fill="#000">Kedah</text>
<text x="345.2" y="1416.3" font-size="15.5" textLength="56.0" lengthAdjust="spacingAndGlyphs" text-anchor="middle" fill="#000">Kelantan</text>
<text x="424.5" y="1416.3" font-size="15.5" textLength="45.0" lengthAdjust="spacingAndGlyphs" text-anchor="middle" fill="#000">Melaka</text>
<text x="503.8" y="1416.3" font-size="15.5" textLength="72.7" lengthAdjust="spacingAndGlyphs" text-anchor="middle" fill="#000">N.Sembilan</text>
<text x="583.2" y="1416.3" font-size="15.5" textLength="49.0" lengthAdjust="spacingAndGlyphs" text-anchor="middle" fill="#000">Pahang</text>
<text x="662.5" y="1416.3" font-size="15.5" textLength="56.0" lengthAdjust="spacingAndGlyphs" text-anchor="middle" fill="#000">P.Pinang</text>
<text x="741.9" y="1416.3" font-size="15.5" textLength="36.0" lengthAdjust="spacingAndGlyphs" text-anchor="middle" fill="#000">Perak</text>
<text x="821.2" y="1416.3" font-size="15.5" textLength="35.0" lengthAdjust="spacingAndGlyphs" text-anchor="middle" fill="#000">Perlis</text>
<text x="900.5" y="1416.3" font-size="15.5" textLength="56.0" lengthAdjust="spacingAndGlyphs" text-anchor="middle" fill="#000">Selangor</text>
<text x="979.9" y="1416.3" font-size="15.5" textLength="78.0" lengthAdjust="spacingAndGlyphs" text-anchor="middle" fill="#000">Terengganu</text>
<text x="1059.2" y="1416.3" font-size="15.5" textLength="39.0" lengthAdjust="spacingAndGlyphs" text-anchor="middle" fill="#000">Sabah</text>
<text x="1138.5" y="1416.3" font-size="15.5" textLength="54.0" lengthAdjust="spacingAndGlyphs" text-anchor="middle" fill="#000">Sarawak</text>
<text x="1217.9" y="1416.3" font-size="15.5" textLength="71.0" lengthAdjust="spacingAndGlyphs" text-anchor="middle" fill="#000">W.P. Kuala</text>
<text x="1217.9" y="1434.3" font-size="15.5" textLength="49.0" lengthAdjust="spacingAndGlyphs" text-anchor="middle" fill="#000">Lumpur</text>
<text x="1297.2" y="1416.3" font-size="15.5" textLength="30.0" lengthAdjust="spacingAndGlyphs" text-anchor="middle" fill="#000">W.P.</text>
<text x="1297.2" y="1434.3" font-size="15.5" textLength="47.0" lengthAdjust="spacingAndGlyphs" text-anchor="middle" fill="#000">Labuan</text>
<text x="1376.6" y="1416.3" font-size="15.5" textLength="30.0" lengthAdjust="spacingAndGlyphs" text-anchor="middle" fill="#000">W.P.</text>
<text x="1376.6" y="1434.3" font-size="15.5" textLength="61.0" lengthAdjust="spacingAndGlyphs" text-anchor="middle" fill="#000">Putrajaya</text>
<text x="463.4" y="1456.5" font-family="Liberation Serif" font-size="19.6" word-spacing="3.5" xml:space="preserve" textLength="552.0" lengthAdjust="spacing" fill="#000" stroke="#000" stroke-width="0.25">*Agriculture, Mining, Manufacturing and  Electricity &amp; Water</text>
<text x="180.1" y="1482.1" font-family="Liberation Serif" font-size="19.6" word-spacing="3.5" xml:space="preserve" textLength="1119.5" lengthAdjust="spacing" fill="#000" stroke="#000" stroke-width="0.25">** Accommodations, Transportation &amp; Storage, Communication, Finance, Insurance, Real Estate, Information Technology &amp;</text>
<text x="204.5" y="1508.2" font-family="Liberation Serif" font-size="19.6" word-spacing="3.5" xml:space="preserve" textLength="1093.5" lengthAdjust="spacing" fill="#000" stroke="#000" stroke-width="0.25">Communication, Food &amp; Beverage, Administrative &amp; Support Services, Professional, Health, Education and Other Services</text>
<text x="316" y="1541.9" font-family="Liberation Serif" font-size="18.8" font-weight="bold" word-spacing="3.5" xml:space="preserve" textLength="872.0" lengthAdjust="spacing" fill="#000" stroke="#000" stroke-width="0.25">Source: Business Tendency Statistics First Quarter 2025, Department of Statistics Malaysia (DOSM)</text>
</g>
<rect x="-1.0" y="1550.6" width="1473.4" height="53.7" fill="#59344b" stroke="#4a2440" stroke-width="1"/>
<text x="155.0" y="1591.5" font-size="36.5" font-weight="bold" textLength="223.7" lengthAdjust="spacingAndGlyphs" fill="#fff">QUARTERLY</text>
<text x="394.4" y="1591.5" font-size="36.5" font-weight="bold" textLength="249.3" lengthAdjust="spacingAndGlyphs" fill="#fff">CONFIDENCE</text>
<text x="657.0" y="1591.5" font-size="36.5" font-weight="bold" textLength="230.7" lengthAdjust="spacingAndGlyphs" fill="#fff">INDICATOR,</text>
<text x="902.0" y="1591.5" font-size="36.5" font-weight="bold" textLength="194.0" lengthAdjust="spacingAndGlyphs" fill="#fff">MALAYSIA</text>
<text x="1111.3" y="1591.5" font-size="36.5" font-weight="bold" textLength="205.6" lengthAdjust="spacingAndGlyphs" fill="#fff">2019-2025</text>
<line x1="79.5" y1="1627.5" x2="79.5" y2="1862.5" stroke="#d9d9d9" stroke-width="1.2"/>
<line x1="141.4" y1="1627.5" x2="141.4" y2="1803.5" stroke="#d9d9d9" stroke-width="1.2"/>
<line x1="203.2" y1="1627.5" x2="203.2" y2="1803.5" stroke="#d9d9d9" stroke-width="1.2"/>
<line x1="265.1" y1="1627.5" x2="265.1" y2="1803.5" stroke="#d9d9d9" stroke-width="1.2"/>
<line x1="327.0" y1="1627.5" x2="327.0" y2="1862.5" stroke="#d9d9d9" stroke-width="1.2"/>
<line x1="388.8" y1="1627.5" x2="388.8" y2="1803.5" stroke="#d9d9d9" stroke-width="1.2"/>
<line x1="450.7" y1="1627.5" x2="450.7" y2="1803.5" stroke="#d9d9d9" stroke-width="1.2"/>
<line x1="512.6" y1="1627.5" x2="512.6" y2="1803.5" stroke="#d9d9d9" stroke-width="1.2"/>
<line x1="574.5" y1="1627.5" x2="574.5" y2="1862.5" stroke="#d9d9d9" stroke-width="1.2"/>
<line x1="636.3" y1="1627.5" x2="636.3" y2="1803.5" stroke="#d9d9d9" stroke-width="1.2"/>
<line x1="698.2" y1="1627.5" x2="698.2" y2="1803.5" stroke="#d9d9d9" stroke-width="1.2"/>
<line x1="760.1" y1="1627.5" x2="760.1" y2="1803.5" stroke="#d9d9d9" stroke-width="1.2"/>
<line x1="821.9" y1="1627.5" x2="821.9" y2="1862.5" stroke="#d9d9d9" stroke-width="1.2"/>
<line x1="883.8" y1="1627.5" x2="883.8" y2="1803.5" stroke="#d9d9d9" stroke-width="1.2"/>
<line x1="945.7" y1="1627.5" x2="945.7" y2="1803.5" stroke="#d9d9d9" stroke-width="1.2"/>
<line x1="1007.5" y1="1627.5" x2="1007.5" y2="1803.5" stroke="#d9d9d9" stroke-width="1.2"/>
<line x1="1069.4" y1="1627.5" x2="1069.4" y2="1862.5" stroke="#d9d9d9" stroke-width="1.2"/>
<line x1="1131.3" y1="1627.5" x2="1131.3" y2="1803.5" stroke="#d9d9d9" stroke-width="1.2"/>
<line x1="1193.2" y1="1627.5" x2="1193.2" y2="1803.5" stroke="#d9d9d9" stroke-width="1.2"/>
<line x1="1255.0" y1="1627.5" x2="1255.0" y2="1803.5" stroke="#d9d9d9" stroke-width="1.2"/>
<line x1="1316.9" y1="1627.5" x2="1316.9" y2="1862.5" stroke="#d9d9d9" stroke-width="1.2"/>
<line x1="1378.8" y1="1627.5" x2="1378.8" y2="1803.5" stroke="#d9d9d9" stroke-width="1.2"/>
<line x1="1440.6" y1="1627.5" x2="1440.6" y2="1862.5" stroke="#d9d9d9" stroke-width="1.2"/>
<line x1="79.5" y1="1662.4" x2="1440.5" y2="1662.4" stroke="#d9d9d9" stroke-width="1.2"/>
<polyline points="109.8,1669.8 171.7,1751.2 233.6,1736.4 295.4,1700.5 357.3,1702.2 419.2,1673.3 481.1,1737.5 542.9,1663.5 604.8,1635.6 666.7,1650.1 728.5,1645.8 790.4,1651.1 852.3,1649.7 914.1,1673.3 976.0,1659.9 1037.9,1651.1 1099.8,1647.6 1161.6,1659.9 1223.5,1645.8 1285.4,1645.5 1347.2,1651.1 1409.1,1655.4" fill="none" stroke="#d3b0ca" stroke-width="3" stroke-linejoin="round" stroke-linecap="round"/>
<text x="100.7" y="1668.5" font-size="17.8" textLength="29.1" lengthAdjust="spacingAndGlyphs" fill="#111" stroke="#111" stroke-width="0.45">-2.1</text>
<text x="134.2" y="1767.5" font-size="17.8" textLength="43.1" lengthAdjust="spacingAndGlyphs" fill="#111" stroke="#111" stroke-width="0.45">-25.2</text>
<text x="234.2" y="1752.5" font-size="17.8" textLength="39.1" lengthAdjust="spacingAndGlyphs" fill="#111" stroke="#111" stroke-width="0.45">-21.0</text>
<text x="257.7" y="1699.0" font-size="17.8" textLength="39.1" lengthAdjust="spacingAndGlyphs" fill="#111" stroke="#111" stroke-width="0.45">-10.8</text>
<text x="343.2" y="1720.0" font-size="17.8" textLength="35.1" lengthAdjust="spacingAndGlyphs" fill="#111" stroke="#111" stroke-width="0.45">-11.3</text>
<text x="405.2" y="1661.5" font-size="17.8" textLength="29.1" lengthAdjust="spacingAndGlyphs" fill="#111" stroke="#111" stroke-width="0.45">-3.1</text>
<text x="448.2" y="1757.5" font-size="17.8" textLength="39.1" lengthAdjust="spacingAndGlyphs" fill="#111" stroke="#111" stroke-width="0.45">-21.3</text>
<text x="547.7" y="1676.5" font-size="17.8" textLength="33.1" lengthAdjust="spacingAndGlyphs" fill="#111" stroke="#111" stroke-width="0.45">-0.3</text>
<text x="588.2" y="1632.5" font-size="17.8" textLength="34.1" lengthAdjust="spacingAndGlyphs" fill="#111" stroke="#111" stroke-width="0.45">+7.6</text>
<text x="650.2" y="1637.5" font-size="17.8" textLength="34.1" lengthAdjust="spacingAndGlyphs" fill="#111" stroke="#111" stroke-width="0.45">+3.5</text>
<text x="709.2" y="1632.5" font-size="17.8" textLength="34.1" lengthAdjust="spacingAndGlyphs" fill="#111" stroke="#111" stroke-width="0.45">+4.7</text>
<text x="772.7" y="1638.5" font-size="17.8" textLength="34.1" lengthAdjust="spacingAndGlyphs" fill="#111" stroke="#111" stroke-width="0.45">+3.2</text>
<text x="834.7" y="1637.5" font-size="17.8" textLength="34.1" lengthAdjust="spacingAndGlyphs" fill="#111" stroke="#111" stroke-width="0.45">+3.6</text>
<text x="892.7" y="1691.0" font-size="17.8" textLength="30.1" lengthAdjust="spacingAndGlyphs" fill="#111" stroke="#111" stroke-width="0.45">-3.1</text>
<text x="959.7" y="1647.5" font-size="17.8" textLength="33.1" lengthAdjust="spacingAndGlyphs" fill="#111" stroke="#111" stroke-width="0.45">+0.7</text>
<text x="1021.2" y="1638.5" font-size="17.8" textLength="34.1" lengthAdjust="spacingAndGlyphs" fill="#111" stroke="#111" stroke-width="0.45">+3.2</text>
<text x="1082.2" y="1636.0" font-size="17.8" textLength="35.6" lengthAdjust="spacingAndGlyphs" fill="#111" stroke="#111" stroke-width="0.45">+4.2</text>
<text x="1144.7" y="1647.5" font-size="17.8" textLength="33.1" lengthAdjust="spacingAndGlyphs" fill="#111" stroke="#111" stroke-width="0.45">+0.7</text>
<text x="1205.2" y="1634.0" font-size="17.8" textLength="34.1" lengthAdjust="spacingAndGlyphs" fill="#111" stroke="#111" stroke-width="0.45">+4.7</text>
<text x="1267.2" y="1634.0" font-size="17.8" textLength="35.6" lengthAdjust="spacingAndGlyphs" fill="#111" stroke="#111" stroke-width="0.45">+4.8</text>
<text x="1329.7" y="1638.5" font-size="17.8" textLength="34.1" lengthAdjust="spacingAndGlyphs" fill="#111" stroke="#111" stroke-width="0.45">+3.2</text>
<text x="1379.0" y="1645.8" font-size="30.5" font-weight="bold" textLength="58.5" lengthAdjust="spacingAndGlyphs" fill="#ff0000">+2.0</text>
<text transform="translate(110.9,1829) scale(0.84,1)" font-size="17.8" letter-spacing="3.6" text-anchor="middle" fill="#111" stroke="#111" stroke-width="0.25">Q1</text>
<text transform="translate(172.8,1829) scale(0.84,1)" font-size="17.8" letter-spacing="3.6" text-anchor="middle" fill="#111" stroke="#111" stroke-width="0.25">Q2</text>
<text transform="translate(234.7,1829) scale(0.84,1)" font-size="17.8" letter-spacing="3.6" text-anchor="middle" fill="#111" stroke="#111" stroke-width="0.25">Q3</text>
<text transform="translate(296.6,1829) scale(0.84,1)" font-size="17.8" letter-spacing="3.6" text-anchor="middle" fill="#111" stroke="#111" stroke-width="0.25">Q4</text>
<text transform="translate(358.4,1829) scale(0.84,1)" font-size="17.8" letter-spacing="3.6" text-anchor="middle" fill="#111" stroke="#111" stroke-width="0.25">Q1</text>
<text transform="translate(420.3,1829) scale(0.84,1)" font-size="17.8" letter-spacing="3.6" text-anchor="middle" fill="#111" stroke="#111" stroke-width="0.25">Q2</text>
<text transform="translate(482.2,1829) scale(0.84,1)" font-size="17.8" letter-spacing="3.6" text-anchor="middle" fill="#111" stroke="#111" stroke-width="0.25">Q3</text>
<text transform="translate(544.0,1829) scale(0.84,1)" font-size="17.8" letter-spacing="3.6" text-anchor="middle" fill="#111" stroke="#111" stroke-width="0.25">Q4</text>
<text transform="translate(605.9,1829) scale(0.84,1)" font-size="17.8" letter-spacing="3.6" text-anchor="middle" fill="#111" stroke="#111" stroke-width="0.25">Q1</text>
<text transform="translate(667.8,1829) scale(0.84,1)" font-size="17.8" letter-spacing="3.6" text-anchor="middle" fill="#111" stroke="#111" stroke-width="0.25">Q2</text>
<text transform="translate(729.6,1829) scale(0.84,1)" font-size="17.8" letter-spacing="3.6" text-anchor="middle" fill="#111" stroke="#111" stroke-width="0.25">Q3</text>
<text transform="translate(791.5,1829) scale(0.84,1)" font-size="17.8" letter-spacing="3.6" text-anchor="middle" fill="#111" stroke="#111" stroke-width="0.25">Q4</text>
<text transform="translate(853.4,1829) scale(0.84,1)" font-size="17.8" letter-spacing="3.6" text-anchor="middle" fill="#111" stroke="#111" stroke-width="0.25">Q1</text>
<text transform="translate(915.3,1829) scale(0.84,1)" font-size="17.8" letter-spacing="3.6" text-anchor="middle" fill="#111" stroke="#111" stroke-width="0.25">Q2</text>
<text transform="translate(977.1,1829) scale(0.84,1)" font-size="17.8" letter-spacing="3.6" text-anchor="middle" fill="#111" stroke="#111" stroke-width="0.25">Q3</text>
<text transform="translate(1039.0,1829) scale(0.84,1)" font-size="17.8" letter-spacing="3.6" text-anchor="middle" fill="#111" stroke="#111" stroke-width="0.25">Q4</text>
<text transform="translate(1100.9,1829) scale(0.84,1)" font-size="17.8" letter-spacing="3.6" text-anchor="middle" fill="#111" stroke="#111" stroke-width="0.25">Q1</text>
<text transform="translate(1162.7,1829) scale(0.84,1)" font-size="17.8" letter-spacing="3.6" text-anchor="middle" fill="#111" stroke="#111" stroke-width="0.25">Q2</text>
<text transform="translate(1224.6,1829) scale(0.84,1)" font-size="17.8" letter-spacing="3.6" text-anchor="middle" fill="#111" stroke="#111" stroke-width="0.25">Q3</text>
<text transform="translate(1286.5,1829) scale(0.84,1)" font-size="17.8" letter-spacing="3.6" text-anchor="middle" fill="#111" stroke="#111" stroke-width="0.25">Q4</text>
<text transform="translate(1348.3,1829) scale(0.84,1)" font-size="17.8" letter-spacing="3.6" text-anchor="middle" fill="#111" stroke="#111" stroke-width="0.25">Q1</text>
<text transform="translate(1410.2,1829) scale(0.84,1)" font-size="17.8" letter-spacing="3.6" text-anchor="middle" fill="#111" stroke="#111" stroke-width="0.25">Q2</text>
<text transform="translate(203.9,1859) scale(0.84,1)" font-size="17.8" letter-spacing="5.4" text-anchor="middle" fill="#111" stroke="#111" stroke-width="0.25">2020</text>
<text transform="translate(451.4,1859) scale(0.84,1)" font-size="17.8" letter-spacing="5.4" text-anchor="middle" fill="#111" stroke="#111" stroke-width="0.25">2021</text>
<text transform="translate(698.9,1859) scale(0.84,1)" font-size="17.8" letter-spacing="5.4" text-anchor="middle" fill="#111" stroke="#111" stroke-width="0.25">2022</text>
<text transform="translate(946.3,1859) scale(0.84,1)" font-size="17.8" letter-spacing="5.4" text-anchor="middle" fill="#111" stroke="#111" stroke-width="0.25">2023</text>
<text transform="translate(1193.8,1859) scale(0.84,1)" font-size="17.8" letter-spacing="5.4" text-anchor="middle" fill="#111" stroke="#111" stroke-width="0.25">2024</text>
<text transform="translate(1379.4,1859) scale(0.84,1)" font-size="17.8" letter-spacing="5.4" text-anchor="middle" fill="#111" stroke="#111" stroke-width="0.25">2025</text>
<text transform="translate(45.5,1796.5) rotate(-90)" font-size="18" textLength="144" lengthAdjust="spacingAndGlyphs" fill="#222">PERCENTAGE (%)</text>
<path d="M174.4,2029.2L174.4,1879.5 L194.6,1881.0 L214.9,1882.4 L235.1,1883.9 L255.4,1885.4 L275.6,1887.2 L295.9,1889.3 L316.1,1891.7 L336.4,1894.5 L356.6,1897.7 L376.9,1901.4 L397.1,1905.6 L417.4,1910.4 L437.6,1915.6 L457.9,1921.5 L478.1,1927.8 L498.4,1934.6 L518.6,1942.0 L538.9,1949.7 L559.1,1957.9 L579.4,1966.4 L599.6,1975.2 L619.9,1984.2 L640.1,1993.4 L660.4,2002.6 L680.6,2011.7 L700.9,2020.6 L721.1,2029.2Z" fill="#8f161b"/>
<path d="M251.8,2029.2L251.8,1887.4 L268.2,1889.7 L284.6,1892.0 L301.0,1894.3 L317.4,1896.7 L333.8,1899.3 L350.2,1902.0 L366.6,1905.0 L383.0,1908.4 L399.4,1912.1 L415.8,1916.1 L432.2,1920.5 L448.6,1925.4 L465.0,1930.6 L481.4,1936.3 L497.8,1942.3 L514.2,1948.7 L530.6,1955.5 L547.0,1962.5 L563.4,1969.8 L579.8,1977.3 L596.2,1984.9 L612.6,1992.6 L629.0,2000.3 L645.4,2007.9 L661.8,2015.3 L678.2,2022.4 L694.6,2029.2Z" fill="#f7bd33"/>
<path d="M247.7,2029.2L247.7,1886.3 L263.2,1889.0 L278.7,1891.7 L294.2,1894.6 L309.7,1897.6 L325.2,1900.8 L340.7,1904.1 L356.2,1907.8 L371.7,1911.7 L387.2,1915.8 L402.7,1920.2 L418.2,1925.0 L433.7,1930.0 L449.2,1935.3 L464.6,1940.9 L480.1,1946.7 L495.6,1952.8 L511.1,1959.2 L526.6,1965.8 L542.1,1972.6 L557.6,1979.5 L573.1,1986.6 L588.6,1993.8 L604.1,2001.0 L619.6,2008.2 L635.1,2015.4 L650.6,2022.5 L666.1,2029.2Z" fill="#2d3a7d"/>
<path d="M0,2077.3L0.0,1876.8 L19.4,1875.9 L38.8,1875.3 L58.1,1875.0 L77.5,1875.0 L96.9,1875.3 L116.3,1875.9 L135.6,1876.8 L155.0,1878.0L174.4,1879.5 L191.6,1881.2 L208.7,1883.0 L225.9,1884.8 L243.0,1886.7 L260.2,1888.8 L277.3,1891.2 L294.5,1893.9 L311.6,1897.0 L328.8,1900.5 L346.0,1904.4 L363.1,1908.7 L380.3,1913.6 L397.4,1918.9 L414.6,1924.7 L431.7,1930.9 L448.9,1937.6 L466.0,1944.8 L483.2,1952.3 L500.4,1960.2 L517.5,1968.5 L534.7,1977.0 L551.8,1985.6 L569.0,1994.4 L586.1,2003.3 L603.3,2012.1 L620.4,2020.9 L637.6,2029.2L1404.7,2029.2L1345.8,2077.3Z" fill="#10869b"/>
<rect x="17.7" y="1922.7" width="106.8" height="102.5" fill="#fff"/>
<path d="M18.1,1923.1h25.8v3.7h-25.8zM47.3,1923.1h18.5v3.7h-18.5zM69.3,1923.1h7.5v3.7h-7.5zM87.5,1923.1h3.9v3.7h-3.9zM98.5,1923.1h25.8v3.7h-25.8zM18.1,1926.6h3.9v3.7h-3.9zM40.0,1926.6h3.9v3.7h-3.9zM47.3,1926.6h7.5v3.7h-7.5zM58.3,1926.6h7.5v3.7h-7.5zM72.9,1926.6h3.9v3.7h-3.9zM91.2,1926.6h3.9v3.7h-3.9zM98.5,1926.6h3.9v3.7h-3.9zM120.4,1926.6h3.9v3.7h-3.9zM18.1,1930.1h3.9v3.7h-3.9zM25.4,1930.1h11.2v3.7h-11.2zM40.0,1930.1h3.9v3.7h-3.9zM54.7,1930.1h3.9v3.7h-3.9zM62.0,1930.1h3.9v3.7h-3.9zM80.2,1930.1h7.5v3.7h-7.5zM91.2,1930.1h3.9v3.7h-3.9zM98.5,1930.1h3.9v3.7h-3.9zM105.8,1930.1h11.2v3.7h-11.2zM120.4,1930.1h3.9v3.7h-3.9zM18.1,1933.6h3.9v3.7h-3.9zM25.4,1933.6h11.2v3.7h-11.2zM40.0,1933.6h3.9v3.7h-3.9zM47.3,1933.6h7.5v3.7h-7.5zM62.0,1933.6h18.5v3.7h-18.5zM83.9,1933.6h11.2v3.7h-11.2zM98.5,1933.6h3.9v3.7h-3.9zM105.8,1933.6h11.2v3.7h-11.2zM120.4,1933.6h3.9v3.7h-3.9zM18.1,1937.1h3.9v3.7h-3.9zM25.4,1937.1h11.2v3.7h-11.2zM40.0,1937.1h3.9v3.7h-3.9zM47.3,1937.1h40.4v3.7h-40.4zM98.5,1937.1h3.9v3.7h-3.9zM105.8,1937.1h11.2v3.7h-11.2zM120.4,1937.1h3.9v3.7h-3.9zM18.1,1940.6h3.9v3.7h-3.9zM40.0,1940.6h3.9v3.7h-3.9zM54.7,1940.6h3.9v3.7h-3.9zM62.0,1940.6h3.9v3.7h-3.9zM80.2,1940.6h11.2v3.7h-11.2zM98.5,1940.6h3.9v3.7h-3.9zM120.4,1940.6h3.9v3.7h-3.9zM18.1,1944.1h25.8v3.7h-25.8zM47.3,1944.1h3.9v3.7h-3.9zM58.3,1944.1h3.9v3.7h-3.9zM72.9,1944.1h18.5v3.7h-18.5zM98.5,1944.1h25.8v3.7h-25.8zM47.3,1947.6h7.5v3.7h-7.5zM62.0,1947.6h11.2v3.7h-11.2zM80.2,1947.6h3.9v3.7h-3.9zM18.1,1951.2h3.9v3.7h-3.9zM29.1,1951.2h14.8v3.7h-14.8zM47.3,1951.2h11.2v3.7h-11.2zM62.0,1951.2h7.5v3.7h-7.5zM76.6,1951.2h3.9v3.7h-3.9zM94.9,1951.2h14.8v3.7h-14.8zM113.1,1951.2h7.5v3.7h-7.5zM21.8,1954.7h3.9v3.7h-3.9zM36.4,1954.7h3.9v3.7h-3.9zM43.7,1954.7h7.5v3.7h-7.5zM94.9,1954.7h3.9v3.7h-3.9zM113.1,1954.7h3.9v3.7h-3.9zM21.8,1958.2h22.1v3.7h-22.1zM98.5,1958.2h7.5v3.7h-7.5zM109.5,1958.2h11.2v3.7h-11.2zM18.1,1961.7h3.9v3.7h-3.9zM25.4,1961.7h11.2v3.7h-11.2zM43.7,1961.7h3.9v3.7h-3.9zM91.2,1961.7h7.5v3.7h-7.5zM109.5,1961.7h7.5v3.7h-7.5zM120.4,1961.7h3.9v3.7h-3.9zM18.1,1965.2h3.9v3.7h-3.9zM32.7,1965.2h3.9v3.7h-3.9zM40.0,1965.2h3.9v3.7h-3.9zM47.3,1965.2h3.9v3.7h-3.9zM91.2,1965.2h7.5v3.7h-7.5zM102.2,1965.2h3.9v3.7h-3.9zM109.5,1965.2h14.8v3.7h-14.8zM18.1,1968.7h3.9v3.7h-3.9zM29.1,1968.7h7.5v3.7h-7.5zM40.0,1968.7h3.9v3.7h-3.9zM47.3,1968.7h3.9v3.7h-3.9zM91.2,1968.7h14.8v3.7h-14.8zM109.5,1968.7h11.2v3.7h-11.2zM25.4,1972.2h25.8v3.7h-25.8zM91.2,1972.2h3.9v3.7h-3.9zM98.5,1972.2h25.8v3.7h-25.8zM18.1,1975.7h3.9v3.7h-3.9zM43.7,1975.7h7.5v3.7h-7.5zM18.1,1979.2h18.5v3.7h-18.5zM91.2,1979.2h7.5v3.7h-7.5zM102.2,1979.2h3.9v3.7h-3.9zM113.1,1979.2h11.2v3.7h-11.2zM32.7,1982.7h11.2v3.7h-11.2zM47.3,1982.7h3.9v3.7h-3.9zM91.2,1982.7h3.9v3.7h-3.9zM98.5,1982.7h3.9v3.7h-3.9zM109.5,1982.7h7.5v3.7h-7.5zM18.1,1986.2h11.2v3.7h-11.2zM32.7,1986.2h3.9v3.7h-3.9zM40.0,1986.2h3.9v3.7h-3.9zM91.2,1986.2h18.5v3.7h-18.5zM113.1,1986.2h3.9v3.7h-3.9zM18.1,1989.7h3.9v3.7h-3.9zM32.7,1989.7h11.2v3.7h-11.2zM91.2,1989.7h7.5v3.7h-7.5zM21.8,1993.2h3.9v3.7h-3.9zM29.1,1993.2h3.9v3.7h-3.9zM40.0,1993.2h7.5v3.7h-7.5zM51.0,1993.2h14.8v3.7h-14.8zM72.9,1993.2h3.9v3.7h-3.9zM80.2,1993.2h3.9v3.7h-3.9zM87.5,1993.2h25.8v3.7h-25.8zM120.4,1993.2h3.9v3.7h-3.9zM54.7,1996.7h7.5v3.7h-7.5zM65.6,1996.7h14.8v3.7h-14.8zM83.9,1996.7h3.9v3.7h-3.9zM91.2,1996.7h3.9v3.7h-3.9zM105.8,1996.7h11.2v3.7h-11.2zM18.1,2000.3h25.8v3.7h-25.8zM47.3,2000.3h3.9v3.7h-3.9zM65.6,2000.3h11.2v3.7h-11.2zM91.2,2000.3h3.9v3.7h-3.9zM98.5,2000.3h3.9v3.7h-3.9zM105.8,2000.3h3.9v3.7h-3.9zM113.1,2000.3h3.9v3.7h-3.9zM18.1,2003.8h3.9v3.7h-3.9zM40.0,2003.8h3.9v3.7h-3.9zM51.0,2003.8h7.5v3.7h-7.5zM62.0,2003.8h11.2v3.7h-11.2zM83.9,2003.8h11.2v3.7h-11.2zM105.8,2003.8h7.5v3.7h-7.5zM116.8,2003.8h7.5v3.7h-7.5zM18.1,2007.3h3.9v3.7h-3.9zM25.4,2007.3h11.2v3.7h-11.2zM40.0,2007.3h3.9v3.7h-3.9zM58.3,2007.3h3.9v3.7h-3.9zM65.6,2007.3h3.9v3.7h-3.9zM72.9,2007.3h7.5v3.7h-7.5zM83.9,2007.3h3.9v3.7h-3.9zM91.2,2007.3h18.5v3.7h-18.5zM113.1,2007.3h11.2v3.7h-11.2zM18.1,2010.8h3.9v3.7h-3.9zM25.4,2010.8h11.2v3.7h-11.2zM40.0,2010.8h3.9v3.7h-3.9zM54.7,2010.8h7.5v3.7h-7.5zM69.3,2010.8h3.9v3.7h-3.9zM76.6,2010.8h25.8v3.7h-25.8zM105.8,2010.8h3.9v3.7h-3.9zM113.1,2010.8h7.5v3.7h-7.5zM18.1,2014.3h3.9v3.7h-3.9zM25.4,2014.3h11.2v3.7h-11.2zM40.0,2014.3h3.9v3.7h-3.9zM51.0,2014.3h7.5v3.7h-7.5zM65.6,2014.3h11.2v3.7h-11.2zM80.2,2014.3h3.9v3.7h-3.9zM91.2,2014.3h7.5v3.7h-7.5zM105.8,2014.3h3.9v3.7h-3.9zM113.1,2014.3h11.2v3.7h-11.2zM18.1,2017.8h3.9v3.7h-3.9zM40.0,2017.8h3.9v3.7h-3.9zM51.0,2017.8h14.8v3.7h-14.8zM69.3,2017.8h3.9v3.7h-3.9zM91.2,2017.8h11.2v3.7h-11.2zM105.8,2017.8h7.5v3.7h-7.5zM116.8,2017.8h7.5v3.7h-7.5zM18.1,2021.3h25.8v3.7h-25.8zM47.3,2021.3h7.5v3.7h-7.5zM58.3,2021.3h11.2v3.7h-11.2zM87.5,2021.3h3.9v3.7h-3.9zM94.9,2021.3h3.9v3.7h-3.9zM102.2,2021.3h3.9v3.7h-3.9zM109.5,2021.3h14.8v3.7h-14.8z" fill="#000"/>
<g transform="translate(52.5,1958) scale(0.255)"><use href="#crestg" transform="translate(-130,-5)"/></g>
<rect x="149.5" y="1944.5" width="41.6" height="39.4" rx="3" fill="none" stroke="#fff" stroke-width="1.5"/>
<rect x="199.6" y="1944.5" width="41.6" height="39.4" rx="3" fill="none" stroke="#fff" stroke-width="1.5"/>
<rect x="250.1" y="1944.5" width="41.6" height="39.4" rx="3" fill="none" stroke="#fff" stroke-width="1.5"/>
<rect x="298.4" y="1944.5" width="41.6" height="39.4" rx="3" fill="none" stroke="#fff" stroke-width="1.5"/>
<rect x="347.8" y="1944.5" width="41.6" height="39.4" rx="3" fill="none" stroke="#fff" stroke-width="1.5"/>
<rect x="397.7" y="1944.5" width="41.6" height="39.4" rx="3" fill="none" stroke="#fff" stroke-width="1.5"/>
<rect x="159" y="1952" width="23.4" height="23" rx="6.5" fill="none" stroke="#fff" stroke-width="2.3"/>
<circle cx="170.6" cy="1963.7" r="5.6" fill="none" stroke="#fff" stroke-width="2.2"/>
<circle cx="177.3" cy="1957.2" r="1.4" fill="#fff"/>
<path d="M222.6,1977 V1964.6 H218.3 V1959.9 H222.6 V1957.2 C222.6,1953.3 225.2,1951.6 228.4,1951.6 C230,1951.6 231.4,1951.8 232.4,1952 V1956.4 H230.1 C228.5,1956.4 227.9,1957.2 227.9,1958.5 V1959.9 H232.2 L231.6,1964.6 H227.9 V1977Z" fill="#fff"/>
<path d="M257.5,1951 H266 L286.5,1979 H278Z" fill="#18a5b8" stroke="#fff" stroke-width="1.3" stroke-linejoin="round"/>
<path d="M285.5,1951 L272.8,1964.2 M270,1967.2 L258.2,1979" stroke="#fff" stroke-width="1.5" fill="none"/>
<path d="M311.6,1955 L328.8,1963.7 L311.6,1972.4Z" fill="#fff"/>
<path d="M367.5,1950.3 H372.3 C372.6,1954.3 375.5,1957 380,1957.3 V1962 C377,1962 374.4,1961 372.3,1959.4 V1969.3 C372.3,1974.6 368.3,1978.2 363.5,1978.2 C358.5,1978.2 354.9,1974.4 354.9,1969.8 C354.9,1964.6 359.3,1960.6 364.8,1961.4 V1966.3 C362,1965.5 359.6,1967.3 359.6,1969.8 C359.6,1972 361.3,1973.6 363.5,1973.6 C365.8,1973.6 367.5,1971.8 367.5,1969.3Z" fill="#fff"/>
<circle cx="406.8" cy="1953.6" r="3.4" fill="#fff"/>
<rect x="403.9" y="1959.6" width="5.8" height="18.4" fill="#fff"/>
<path d="M413.6,1959.6 H419.2 V1962.2 C420.4,1960.3 422.8,1959 425.8,1959 C431.6,1959 434,1962.6 434,1968.3 V1978 H428.2 V1969.3 C428.2,1966.3 427.2,1964.2 424.4,1964.2 C421.4,1964.2 419.4,1966.3 419.4,1969.3 V1978 H413.6Z" fill="#fff"/>
<text x="150.5" y="2012.8" font-size="24.5" font-weight="bold" textLength="29.0" lengthAdjust="spacingAndGlyphs" fill="#fff" stroke="#fff" stroke-width="0.9">@</text>
<text x="186.2" y="2012.8" font-size="23.5" font-weight="bold" stroke="#fff" stroke-width="0.5" textLength="91.0" lengthAdjust="spacing" fill="#fff">Stats</text>
<text x="284.2" y="2012.8" font-size="23.5" textLength="151.2" lengthAdjust="spacing" fill="#fff">Malaysia</text>
<path d="M719.9,1986.8Q711.7,2014.5 687.5,2006.5Q712.5,1992.5 719.9,1986.8Z" fill="#d8141c"/>
<path d="M716.7,1989.2Q697.1,2010.5 679.0,1992.7Q707.6,1991.1 716.7,1989.2Z" fill="#e8232a"/>
<path d="M712.7,1990.0Q685.8,2000.6 677.3,1976.6Q703.7,1987.7 712.7,1990.0Z" fill="#c4121a"/>
<path d="M708.8,1988.9Q680.0,1986.7 682.8,1961.4Q701.7,1982.9 708.8,1988.9Z" fill="#e8232a"/>
<path d="M705.7,1986.3Q680.8,1971.6 694.5,1950.1Q702.0,1977.8 705.7,1986.3Z" fill="#d8141c"/>
<path d="M704.1,1982.6Q688.2,1958.5 709.9,1945.1Q704.5,1973.3 704.1,1982.6Z" fill="#e8232a"/>
<path d="M704.3,1978.5Q700.6,1949.9 725.9,1947.4Q708.7,1970.3 704.3,1978.5Z" fill="#c4121a"/>
<path d="M706.3,1975.0Q715.5,1947.6 739.3,1956.4Q713.9,1969.5 706.3,1975.0Z" fill="#d8141c"/>
<path d="M709.6,1972.7Q729.9,1952.1 747.4,1970.5Q718.8,1971.1 709.6,1972.7Z" fill="#e8232a"/>
<path d="M706.6,1974.6Q716.8,1950.7 739.0,1959.1Q714.6,1968.6 706.6,1974.6Z" fill="#26357f"/>
<path d="M709.5,1972.7Q727.9,1954.4 745.3,1970.5Q719.1,1970.1 709.5,1972.7Z" fill="#f3b51f"/>
<path d="M712.8,1972.0Q736.8,1961.9 746.9,1983.4Q722.7,1973.2 712.8,1972.0Z" fill="#26357f"/>
<path d="M716.2,1972.6Q742.2,1972.2 743.6,1995.9Q725.0,1977.4 716.2,1972.6Z" fill="#f3b51f"/>
<path d="M719.1,1974.4Q743.4,1983.8 735.8,2006.3Q725.4,1982.1 719.1,1974.4Z" fill="#26357f"/>
<path d="M721.2,1977.2Q740.1,1995.0 724.6,2012.9Q724.1,1986.7 721.2,1977.2Z" fill="#f3b51f"/>
<path d="M722.0,1980.5Q732.9,2004.1 711.8,2015.0Q721.2,1990.5 722.0,1980.5Z" fill="#26357f"/>
<path d="M721.5,1983.9Q722.8,2009.9 699.2,2012.1Q717.0,1992.8 721.5,1983.9Z" fill="#26357f"/>
<circle cx="713" cy="1981" r="10.5" fill="#fff"/>
<circle cx="713" cy="1981" r="9" fill="#e8232a"/>
<rect x="708.5" y="1976" width="9" height="8" fill="#ffd21f"/>
<rect x="708.5" y="1985" width="9" height="1.6" fill="#26357f"/>
<circle cx="731" cy="1939" r="1" fill="#e8232a"/>
<circle cx="735" cy="1943" r="1" fill="#e8232a"/>
<circle cx="739" cy="1939" r="1" fill="#e8232a"/>
<circle cx="743" cy="1943" r="1" fill="#e8232a"/>
<circle cx="747" cy="1939" r="1" fill="#e8232a"/>
<circle cx="733" cy="1947" r="1" fill="#e8232a"/>
<circle cx="741" cy="1947" r="1" fill="#e8232a"/>
<path d="M705,1948 Q718,1939 735,1941" stroke="#e8232a" stroke-width="3" fill="none" stroke-linecap="round"/>
<text x="756.9" y="1985.1" font-size="46" font-weight="bold" textLength="143.9" lengthAdjust="spacingAndGlyphs" fill="#2e3a8e" stroke="#2e3a8e" stroke-width="1.6" stroke-linejoin="round">ASEAN</text>
<text x="758.2" y="2004.1" font-size="17" font-weight="bold" textLength="141.3" lengthAdjust="spacingAndGlyphs" fill="#2e3a8e" stroke="#2e3a8e" stroke-width="0.5">MALAYSIA 2025</text>
<text x="758.2" y="2014.4" font-size="7.6" font-weight="bold" textLength="140.7" lengthAdjust="spacingAndGlyphs" fill="#2e3a8e">INCLUSIVITY AND SUSTAINABILITY</text>
<path d="M924.5,1990 V1960.5 L933.1,1958 V1990Z" fill="#1f2a6b"/>
<path d="M926.1,1990 V1962.2 L931.5,1960.6 V1990Z" fill="#fff"/>
<rect x="926.1" y="1962.4" width="1.9" height="13.6" fill="#e02a2f"/>
<rect x="929.6" y="1961.2" width="1.9" height="14.8" fill="#e02a2f"/>
<path d="M933,1990 V1948.3 L941.6,1945.8 V1990Z" fill="#1f2a6b"/>
<path d="M934.6,1990 V1950.0 L940.0,1948.3999999999999 V1990Z" fill="#fff"/>
<rect x="934.6" y="1950.2" width="1.9" height="25.800000000000047" fill="#e02a2f"/>
<rect x="938.1" y="1949.0" width="1.9" height="27.000000000000046" fill="#e02a2f"/>
<path d="M941.5,1990 V1941.0 L950.1,1938.5 V1990Z" fill="#1f2a6b"/>
<path d="M943.1,1990 V1942.7 L948.5,1941.1 V1990Z" fill="#fff"/>
<rect x="943.1" y="1942.9" width="1.9" height="33.1" fill="#e02a2f"/>
<rect x="946.6" y="1941.7" width="1.9" height="34.3" fill="#e02a2f"/>
<path d="M950,1990 V1949.5 L958.6,1947 V1990Z" fill="#1f2a6b"/>
<path d="M951.6,1990 V1951.2 L957.0,1949.6 V1990Z" fill="#fff"/>
<rect x="951.6" y="1951.4" width="1.9" height="24.6" fill="#e02a2f"/>
<rect x="955.1" y="1950.2" width="1.9" height="25.8" fill="#e02a2f"/>
<path d="M958.5,1990 V1963.2 L967.1,1960.7 V1990Z" fill="#1f2a6b"/>
<path d="M960.1,1990 V1964.9 L965.5,1963.3 V1990Z" fill="#fff"/>
<rect x="960.1" y="1965.1000000000001" width="1.9" height="10.899999999999954" fill="#e02a2f"/>
<rect x="963.6" y="1963.9" width="1.9" height="12.099999999999955" fill="#e02a2f"/>
<path d="M923,1975 H967.8 V1987 A22.4,22.4 0 0 1 923,1987Z" fill="#1f2a6b"/>
<circle cx="945.4" cy="1986.5" r="21.8" fill="#1f2a6b"/>
<path d="M948,1975.5 A12.6,12.6 0 1 0 948,1999.5 A10.2,10.2 0 1 1 948,1975.5Z" fill="#ffd100"/>
<polygon points="951.6,1978.8 952.4,1983.9 955.3,1979.7 953.8,1984.6 958.3,1982.0 954.8,1985.8 960.0,1985.5 955.2,1987.4 960.0,1989.3 954.8,1989.0 958.3,1992.8 953.8,1990.2 955.3,1995.1 952.4,1990.9 951.6,1996.0 950.8,1990.9 947.9,1995.1 949.4,1990.2 944.9,1992.8 948.4,1989.0 943.2,1989.3 948.0,1987.4 943.2,1985.5 948.4,1985.8 944.9,1982.0 949.4,1984.6 947.9,1979.7 950.8,1983.9" fill="#ffd100"/>
<text x="977.7" y="1968.8" font-size="22.8" font-weight="bold" textLength="144.6" lengthAdjust="spacingAndGlyphs" fill="#1f2a6b" stroke="#1f2a6b" stroke-width="1.3" stroke-linejoin="round">MALAYSIA</text>
<text x="977.4" y="1994.6" font-size="29.2" font-weight="bold" textLength="145.1" lengthAdjust="spacingAndGlyphs" fill="#1f2a6b" stroke="#1f2a6b" stroke-width="1.7" stroke-linejoin="round">MADANI</text>
<text x="984" y="2014" font-family="Liberation Serif" font-style="italic" font-weight="bold" font-size="24" textLength="131" lengthAdjust="spacingAndGlyphs" fill="#1f2a6b">ke<tspan fill="#e02a2f">m</tspan>ampanan</text>
<path d="M1004,2020 Q1012,2026 1022,2012" stroke="#1f2a6b" stroke-width="1.6" fill="none"/>
<ellipse cx="1163.3" cy="1953" rx="15.6" ry="12.8" fill="#fff" stroke="#29abe2" stroke-width="3.6"/>
<circle cx="1158.5" cy="1953" r="8.6" fill="#2c5d8f"/><path d="M1153,1950 q4,-5 8,-2 q3,4 -1,7 q-5,2 -7,-5z" fill="#6a9a4a"/><circle cx="1161" cy="1957" r="2.6" fill="#d9e6ef"/>
<path d="M1185.4,1940.3 H1195 C1204,1940.3 1208,1946 1208,1953 C1208,1960 1204,1965.7 1195,1965.7 H1185.4Z" fill="#fff" stroke="#29abe2" stroke-width="3.4"/>
<rect x="1212.3" y="1938.6" width="9" height="28.8" fill="#29abe2"/>
<path d="M1224.5,1967.4 V1938.6 H1232 L1246,1957 V1938.6 H1254.2 V1967.4 H1246.7 L1232.7,1949 V1967.4Z" fill="#29abe2"/>
<rect x="1212.0" y="1950.3" width="43.0" height="5.2" fill="#29abe2"/>
<text x="1213.7" y="1954.9" font-size="6" font-weight="bold" textLength="40.0" lengthAdjust="spacingAndGlyphs" fill="#fff">2024–2025</text>
<text x="1146.7" y="1976.5" font-size="7.6" font-weight="bold" textLength="107.7" lengthAdjust="spacingAndGlyphs" fill="#1b6fa8">OPEN DATA INVENTORY</text>
<text x="1145.6" y="1992.8" font-size="19" font-weight="bold" textLength="109.8" lengthAdjust="spacingAndGlyphs" fill="#1d78ab" stroke="#1d78ab" stroke-width="0.8">MALAYSIA</text>
<linearGradient id="gold" x1="0" y1="0" x2="0" y2="1"><stop offset="0" stop-color="#f3d27a"/><stop offset="0.5" stop-color="#c4922a"/><stop offset="1" stop-color="#8a6414"/></linearGradient>
<text x="1146.3" y="2005.5" font-size="15.2" font-weight="bold" textLength="109.4" lengthAdjust="spacingAndGlyphs" fill="url(#gold)" stroke="#b8892a" stroke-width="1">NUMBER ONE</text>
<text x="1157.3" y="2015.5" font-size="10.2" font-weight="bold" textLength="85.6" lengthAdjust="spacingAndGlyphs" fill="#1d78ab">IN THE WORLD</text>
<path d="M1325.92,1939.75A29.9,29.9 0 0 1 1349.56,1970.56L1342.07,1970.17A22.4,22.4 0 0 0 1324.36,1947.09Z" fill="#ee2a2f"/>
<path d="M1349.56,1970.56A29.9,29.9 0 0 1 1319.70,1998.90L1319.70,1991.40A22.4,22.4 0 0 0 1342.07,1970.17Z" fill="#f4ea1c"/>
<path d="M1319.70,1998.90A29.9,29.9 0 0 1 1290.09,1973.16L1297.52,1972.12A22.4,22.4 0 0 0 1319.70,1991.40Z" fill="#1f5aa8"/>
<g transform="rotate(13 1319.7 1969)">
<rect x="1293.5" y="1929.5" width="11.5" height="20.7" fill="#86c9c4"/>
<rect x="1293.5" y="1950.2" width="11.5" height="13.8" fill="#2aa8a6"/>
<rect x="1293.5" y="1964.0" width="11.5" height="11.5" fill="#138d96"/>
<rect x="1306.5" y="1950.0" width="9.5" height="12.2" fill="#86c9c4"/>
<rect x="1306.5" y="1962.2" width="9.5" height="8.1" fill="#2aa8a6"/>
<rect x="1306.5" y="1970.2" width="9.5" height="6.8" fill="#138d96"/>
<rect x="1317.5" y="1961.0" width="9.0" height="8.1" fill="#86c9c4"/>
<rect x="1317.5" y="1969.1" width="9.0" height="5.4" fill="#2aa8a6"/>
<rect x="1317.5" y="1974.5" width="9.0" height="4.5" fill="#138d96"/>
</g>
<path d="M1283.3,1946.6 L1281,1956.5 L1295,1971 L1301,1961.5 L1292,1952Z" fill="#1b8f98"/>
<path id="msa" d="M1317.7,1935.5 A33.5,33.5 0 0 1 1334.7,1999" fill="none"/>
<text font-size="4.6" font-weight="bold" fill="#1b3f8f"><textPath href="#msa" startOffset="4"><tspan fill="#1b9aa6">20 OCT</tspan> • MYSTATS DAY</textPath></text>
<path id="msb" d="M1284.2,1966 A35.5,35.5 0 0 0 1341.7,1997" fill="none"/>
<text font-size="4.6" font-weight="bold" fill="#1b3f8f"><textPath href="#msb" startOffset="1">HARI STATISTIK <tspan font-weight="normal" fill="#3b74c4">NEGARA</tspan> •</textPath></text>
<text x="1290.8" y="2017.8" font-size="11.8" font-weight="bold" textLength="63.1" lengthAdjust="spacingAndGlyphs" fill="#000">20 October</text>
<g transform="translate(0,1962.5) scale(1,0.93) translate(0,-1962.5)">
<path d="M1419.01,1920.54A42,42 0 0 1 1431.86,1923.18L1425.71,1939.56A24.5,24.5 0 0 0 1418.21,1938.03Z" fill="#e5243b"/>
<path d="M1434.03,1924.06A42,42 0 0 1 1445.07,1931.17L1433.42,1944.22A24.5,24.5 0 0 0 1426.98,1940.08Z" fill="#dda63a"/>
<path d="M1446.77,1932.78A42,42 0 0 1 1454.50,1943.39L1438.92,1951.35A24.5,24.5 0 0 0 1434.41,1945.16Z" fill="#4c9f38"/>
<path d="M1455.51,1945.50A42,42 0 0 1 1458.88,1958.19L1441.47,1959.98A24.5,24.5 0 0 0 1439.50,1952.59Z" fill="#c5192d"/>
<path d="M1459.05,1960.53A42,42 0 0 1 1457.61,1973.57L1440.73,1968.96A24.5,24.5 0 0 0 1441.57,1961.35Z" fill="#ff3a21"/>
<path d="M1456.93,1975.81A42,42 0 0 1 1450.88,1987.46L1436.80,1977.06A24.5,24.5 0 0 0 1440.34,1970.27Z" fill="#26bde2"/>
<path d="M1449.43,1989.31A42,42 0 0 1 1439.58,1997.98L1430.22,1983.19A24.5,24.5 0 0 0 1435.96,1978.14Z" fill="#fcc30b"/>
<path d="M1437.57,1999.18A42,42 0 0 1 1425.25,2003.70L1421.85,1986.53A24.5,24.5 0 0 0 1429.04,1983.89Z" fill="#a21942"/>
<path d="M1422.94,2004.09A42,42 0 0 1 1409.82,2003.86L1412.85,1986.63A24.5,24.5 0 0 0 1420.50,1986.76Z" fill="#fd6925"/>
<path d="M1407.52,2003.39A42,42 0 0 1 1395.36,1998.44L1404.42,1983.46A24.5,24.5 0 0 0 1411.51,1986.35Z" fill="#dd1367"/>
<path d="M1393.39,1997.17A42,42 0 0 1 1383.85,1988.16L1397.70,1977.47A24.5,24.5 0 0 0 1403.27,1982.72Z" fill="#fd9d24"/>
<path d="M1382.47,1986.26A42,42 0 0 1 1376.83,1974.42L1393.61,1969.45A24.5,24.5 0 0 0 1396.90,1976.36Z" fill="#bf8b2e"/>
<path d="M1376.22,1972.15A42,42 0 0 1 1375.24,1959.06L1392.68,1960.50A24.5,24.5 0 0 0 1393.26,1968.13Z" fill="#3f7e44"/>
<path d="M1375.50,1956.73A42,42 0 0 1 1379.31,1944.17L1395.06,1951.81A24.5,24.5 0 0 0 1392.83,1959.14Z" fill="#0a97d9"/>
<path d="M1380.39,1942.09A42,42 0 0 1 1388.48,1931.76L1400.41,1944.57A24.5,24.5 0 0 0 1395.69,1950.60Z" fill="#56c02b"/>
<path d="M1390.24,1930.21A42,42 0 0 1 1401.52,1923.50L1408.01,1939.75A24.5,24.5 0 0 0 1401.43,1943.66Z" fill="#00689d"/>
<path d="M1403.72,1922.69A42,42 0 0 1 1416.66,1920.50L1416.84,1938.00A24.5,24.5 0 0 0 1409.30,1939.28Z" fill="#19486a"/>
</g>
<text x="1400.8" y="1952.8" font-size="4.6" font-weight="bold" textLength="32.4" lengthAdjust="spacingAndGlyphs" fill="#2f7fc1">SUSTAINABLE</text>
<text x="1400.8" y="1957.3" font-size="4.6" font-weight="bold" textLength="32.4" lengthAdjust="spacingAndGlyphs" fill="#2f7fc1">DEVELOPMENT</text>
<text x="1401.5" y="1966.6" font-size="10" textLength="31.9" lengthAdjust="spacingAndGlyphs" fill="#2f7fc1">GOALS</text>
<text x="1398.7" y="1973.0" font-size="6.2" font-weight="bold" textLength="19.6" lengthAdjust="spacingAndGlyphs" fill="#1f2a6b" stroke="#1f2a6b" stroke-width="0.5">MALA</text>
<text x="1417.7" y="1973.0" font-size="6.2" font-weight="bold" textLength="18.6" lengthAdjust="spacingAndGlyphs" fill="#c0392b">YSIA</text>
<text x="1380.7" y="2017.8" font-size="11.8" font-weight="bold" textLength="72.7" lengthAdjust="spacingAndGlyphs" fill="#000" stroke="#000" stroke-width="0.4">2016 - 2030</text>
<path d="M1435.6,2045.2 H1440.6 V2064.2 H1445.5 V2068.6 H1430.1 V2064.2 H1435.2 V2051.8 H1430.1 V2048.1 C1432.5,2048.1 1434.5,2047.5 1435.6,2045.2Z" fill="#000"/>
</svg>
</body></html>
